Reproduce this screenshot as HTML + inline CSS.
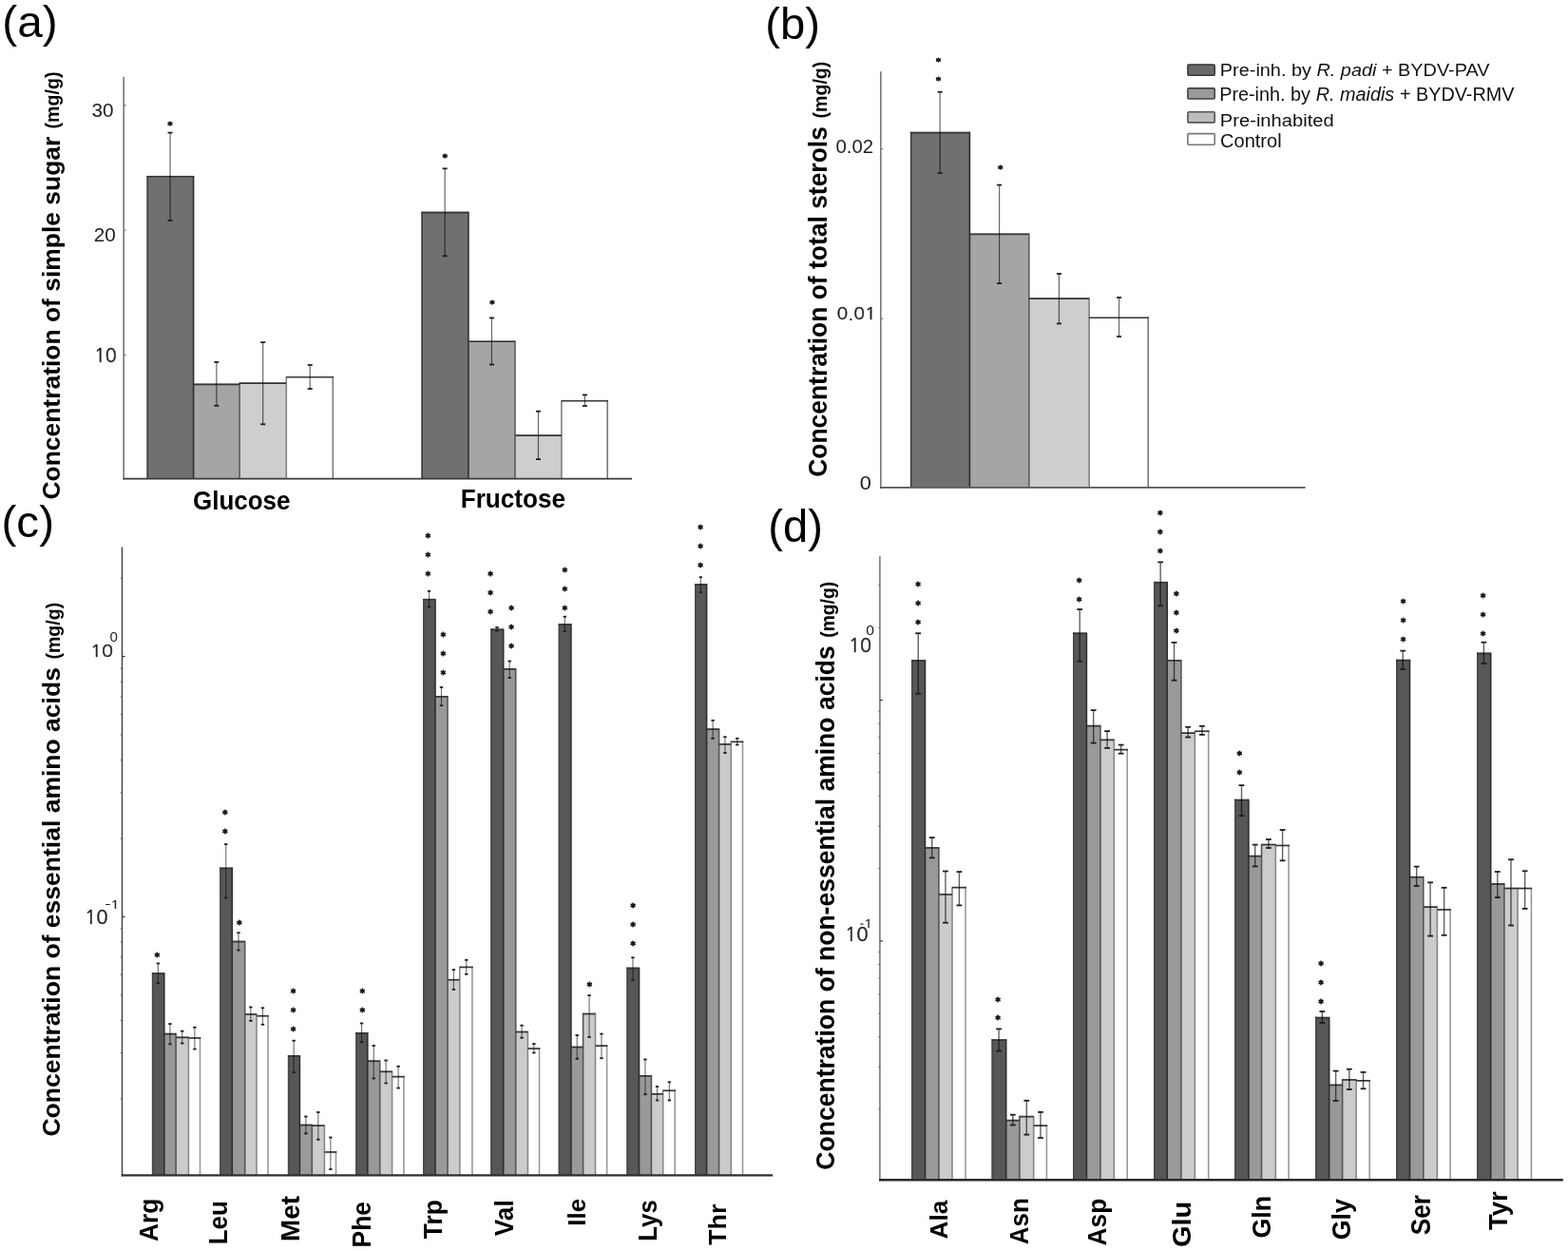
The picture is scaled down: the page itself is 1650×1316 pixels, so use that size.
<!DOCTYPE html>
<html><head><meta charset="utf-8"><title>Figure</title>
<style>
html,body{margin:0;padding:0;background:#fff;}
svg{display:block;}
text{font-family:"Liberation Sans",Arial,sans-serif;}
</style></head>
<body>
<svg width="1650" height="1316" viewBox="0 0 1650 1316">
<rect x="0" y="0" width="1650" height="1316" fill="#ffffff"/>
<rect x="154.50" y="184.90" width="49.10" height="318.70" fill="#707070"/>
<rect x="203.60" y="403.60" width="48.50" height="100.00" fill="#a5a5a5"/>
<rect x="252.10" y="402.30" width="49.20" height="101.30" fill="#cecece"/>
<rect x="301.30" y="395.90" width="49.80" height="107.70" fill="#ffffff"/>
<line x1="155.30" y1="184.90" x2="155.30" y2="503.60" stroke="#414141" stroke-width="1.6"/>
<line x1="203.60" y1="184.90" x2="203.60" y2="503.60" stroke="#2e2e2e" stroke-width="1.6"/>
<line x1="252.10" y1="402.30" x2="252.10" y2="503.60" stroke="#5c5c5c" stroke-width="1.6"/>
<line x1="301.30" y1="395.90" x2="301.30" y2="503.60" stroke="#808080" stroke-width="1.6"/>
<line x1="350.30" y1="395.90" x2="350.30" y2="503.60" stroke="#7a7a7a" stroke-width="1.6"/>
<line x1="154.50" y1="185.75" x2="203.60" y2="185.75" stroke="#363636" stroke-width="1.7"/>
<line x1="203.60" y1="404.45" x2="252.10" y2="404.45" stroke="#363636" stroke-width="1.7"/>
<line x1="252.10" y1="403.15" x2="301.30" y2="403.15" stroke="#363636" stroke-width="1.7"/>
<line x1="301.30" y1="396.75" x2="351.10" y2="396.75" stroke="#363636" stroke-width="1.7"/>
<line x1="179.05" y1="139.60" x2="179.05" y2="232.00" stroke="#000" stroke-opacity="0.6" stroke-width="1.2"/>
<line x1="176.55" y1="139.60" x2="181.55" y2="139.60" stroke="#1e1e1e" stroke-width="1.8"/>
<line x1="176.55" y1="232.00" x2="181.55" y2="232.00" stroke="#1e1e1e" stroke-width="1.8"/>
<line x1="227.85" y1="380.90" x2="227.85" y2="426.80" stroke="#000" stroke-opacity="0.6" stroke-width="1.2"/>
<line x1="225.35" y1="380.90" x2="230.35" y2="380.90" stroke="#1e1e1e" stroke-width="1.8"/>
<line x1="225.35" y1="426.80" x2="230.35" y2="426.80" stroke="#1e1e1e" stroke-width="1.8"/>
<line x1="276.70" y1="360.10" x2="276.70" y2="446.30" stroke="#000" stroke-opacity="0.6" stroke-width="1.2"/>
<line x1="274.20" y1="360.10" x2="279.20" y2="360.10" stroke="#1e1e1e" stroke-width="1.8"/>
<line x1="274.20" y1="446.30" x2="279.20" y2="446.30" stroke="#1e1e1e" stroke-width="1.8"/>
<line x1="326.20" y1="384.00" x2="326.20" y2="409.00" stroke="#000" stroke-opacity="0.6" stroke-width="1.2"/>
<line x1="323.70" y1="384.00" x2="328.70" y2="384.00" stroke="#1e1e1e" stroke-width="1.8"/>
<line x1="323.70" y1="409.00" x2="328.70" y2="409.00" stroke="#1e1e1e" stroke-width="1.8"/>
<rect x="443.40" y="222.70" width="49.50" height="280.90" fill="#707070"/>
<rect x="492.90" y="358.40" width="49.10" height="145.20" fill="#a5a5a5"/>
<rect x="542.00" y="457.30" width="48.90" height="46.30" fill="#cecece"/>
<rect x="590.90" y="420.90" width="49.10" height="82.70" fill="#ffffff"/>
<line x1="444.20" y1="222.70" x2="444.20" y2="503.60" stroke="#414141" stroke-width="1.6"/>
<line x1="492.90" y1="222.70" x2="492.90" y2="503.60" stroke="#2e2e2e" stroke-width="1.6"/>
<line x1="542.00" y1="358.40" x2="542.00" y2="503.60" stroke="#5c5c5c" stroke-width="1.6"/>
<line x1="590.90" y1="420.90" x2="590.90" y2="503.60" stroke="#808080" stroke-width="1.6"/>
<line x1="639.20" y1="420.90" x2="639.20" y2="503.60" stroke="#7a7a7a" stroke-width="1.6"/>
<line x1="443.40" y1="223.55" x2="492.90" y2="223.55" stroke="#363636" stroke-width="1.7"/>
<line x1="492.90" y1="359.25" x2="542.00" y2="359.25" stroke="#363636" stroke-width="1.7"/>
<line x1="542.00" y1="458.15" x2="590.90" y2="458.15" stroke="#363636" stroke-width="1.7"/>
<line x1="590.90" y1="421.75" x2="640.00" y2="421.75" stroke="#363636" stroke-width="1.7"/>
<line x1="468.15" y1="177.30" x2="468.15" y2="269.30" stroke="#000" stroke-opacity="0.6" stroke-width="1.2"/>
<line x1="465.65" y1="177.30" x2="470.65" y2="177.30" stroke="#1e1e1e" stroke-width="1.8"/>
<line x1="465.65" y1="269.30" x2="470.65" y2="269.30" stroke="#1e1e1e" stroke-width="1.8"/>
<line x1="517.45" y1="334.40" x2="517.45" y2="383.50" stroke="#000" stroke-opacity="0.6" stroke-width="1.2"/>
<line x1="514.95" y1="334.40" x2="519.95" y2="334.40" stroke="#1e1e1e" stroke-width="1.8"/>
<line x1="514.95" y1="383.50" x2="519.95" y2="383.50" stroke="#1e1e1e" stroke-width="1.8"/>
<line x1="566.45" y1="432.70" x2="566.45" y2="483.10" stroke="#000" stroke-opacity="0.6" stroke-width="1.2"/>
<line x1="563.95" y1="432.70" x2="568.95" y2="432.70" stroke="#1e1e1e" stroke-width="1.8"/>
<line x1="563.95" y1="483.10" x2="568.95" y2="483.10" stroke="#1e1e1e" stroke-width="1.8"/>
<line x1="615.45" y1="415.40" x2="615.45" y2="427.00" stroke="#000" stroke-opacity="0.6" stroke-width="1.2"/>
<line x1="612.95" y1="415.40" x2="617.95" y2="415.40" stroke="#1e1e1e" stroke-width="1.8"/>
<line x1="612.95" y1="427.00" x2="617.95" y2="427.00" stroke="#1e1e1e" stroke-width="1.8"/>
<text stroke="#1a1a1a" stroke-width="8.9" stroke-linejoin="round" transform="translate(176.41,135.06) scale(0.09534,0.09534)" font-size="100" fill="#1a1a1a" xml:space="preserve"><tspan x="0.00" font-family="DejaVu Sans, sans-serif" font-weight="bold">*</tspan></text>
<text stroke="#1a1a1a" stroke-width="8.9" stroke-linejoin="round" transform="translate(465.81,169.26) scale(0.09534,0.09534)" font-size="100" fill="#1a1a1a" xml:space="preserve"><tspan x="0.00" font-family="DejaVu Sans, sans-serif" font-weight="bold">*</tspan></text>
<text stroke="#1a1a1a" stroke-width="8.9" stroke-linejoin="round" transform="translate(515.51,323.06) scale(0.09534,0.09534)" font-size="100" fill="#1a1a1a" xml:space="preserve"><tspan x="0.00" font-family="DejaVu Sans, sans-serif" font-weight="bold">*</tspan></text>
<line x1="130.20" y1="80.70" x2="130.20" y2="504.60" stroke="#777777" stroke-width="1.6"/>
<line x1="129.50" y1="503.60" x2="665.00" y2="503.60" stroke="#3a3a3a" stroke-width="1.6"/>
<line x1="130.20" y1="110.90" x2="132.60" y2="110.90" stroke="#777777" stroke-width="1.2"/>
<line x1="130.20" y1="242.10" x2="132.60" y2="242.10" stroke="#777777" stroke-width="1.2"/>
<line x1="130.20" y1="373.30" x2="132.60" y2="373.30" stroke="#777777" stroke-width="1.2"/>
<rect x="957.90" y="138.80" width="62.50" height="374.10" fill="#707070"/>
<rect x="1020.40" y="245.60" width="62.40" height="267.30" fill="#a5a5a5"/>
<rect x="1082.80" y="313.30" width="63.30" height="199.60" fill="#cecece"/>
<rect x="1146.10" y="333.40" width="62.90" height="179.50" fill="#ffffff"/>
<line x1="958.70" y1="138.80" x2="958.70" y2="512.90" stroke="#414141" stroke-width="1.6"/>
<line x1="1020.40" y1="138.80" x2="1020.40" y2="512.90" stroke="#2e2e2e" stroke-width="1.6"/>
<line x1="1082.80" y1="245.60" x2="1082.80" y2="512.90" stroke="#5c5c5c" stroke-width="1.6"/>
<line x1="1146.10" y1="313.30" x2="1146.10" y2="512.90" stroke="#808080" stroke-width="1.6"/>
<line x1="1208.20" y1="333.40" x2="1208.20" y2="512.90" stroke="#7a7a7a" stroke-width="1.6"/>
<line x1="957.90" y1="139.65" x2="1020.40" y2="139.65" stroke="#363636" stroke-width="1.7"/>
<line x1="1020.40" y1="246.45" x2="1082.80" y2="246.45" stroke="#363636" stroke-width="1.7"/>
<line x1="1082.80" y1="314.15" x2="1146.10" y2="314.15" stroke="#363636" stroke-width="1.7"/>
<line x1="1146.10" y1="334.25" x2="1209.00" y2="334.25" stroke="#363636" stroke-width="1.7"/>
<line x1="989.15" y1="96.70" x2="989.15" y2="182.10" stroke="#000" stroke-opacity="0.6" stroke-width="1.2"/>
<line x1="986.65" y1="96.70" x2="991.65" y2="96.70" stroke="#1e1e1e" stroke-width="1.8"/>
<line x1="986.65" y1="182.10" x2="991.65" y2="182.10" stroke="#1e1e1e" stroke-width="1.8"/>
<line x1="1051.60" y1="194.60" x2="1051.60" y2="298.10" stroke="#000" stroke-opacity="0.6" stroke-width="1.2"/>
<line x1="1049.10" y1="194.60" x2="1054.10" y2="194.60" stroke="#1e1e1e" stroke-width="1.8"/>
<line x1="1049.10" y1="298.10" x2="1054.10" y2="298.10" stroke="#1e1e1e" stroke-width="1.8"/>
<line x1="1114.45" y1="288.00" x2="1114.45" y2="340.40" stroke="#000" stroke-opacity="0.6" stroke-width="1.2"/>
<line x1="1111.95" y1="288.00" x2="1116.95" y2="288.00" stroke="#1e1e1e" stroke-width="1.8"/>
<line x1="1111.95" y1="340.40" x2="1116.95" y2="340.40" stroke="#1e1e1e" stroke-width="1.8"/>
<line x1="1177.55" y1="313.00" x2="1177.55" y2="354.10" stroke="#000" stroke-opacity="0.6" stroke-width="1.2"/>
<line x1="1175.05" y1="313.00" x2="1180.05" y2="313.00" stroke="#1e1e1e" stroke-width="1.8"/>
<line x1="1175.05" y1="354.10" x2="1180.05" y2="354.10" stroke="#1e1e1e" stroke-width="1.8"/>
<text stroke="#1a1a1a" stroke-width="8.9" stroke-linejoin="round" transform="translate(985.11,67.66) scale(0.09534,0.09534)" font-size="100" fill="#1a1a1a" xml:space="preserve"><tspan x="0.00" font-family="DejaVu Sans, sans-serif" font-weight="bold">*</tspan></text>
<text stroke="#1a1a1a" stroke-width="8.9" stroke-linejoin="round" transform="translate(985.11,87.86) scale(0.09534,0.09534)" font-size="100" fill="#1a1a1a" xml:space="preserve"><tspan x="0.00" font-family="DejaVu Sans, sans-serif" font-weight="bold">*</tspan></text>
<text stroke="#1a1a1a" stroke-width="8.9" stroke-linejoin="round" transform="translate(1050.31,180.56) scale(0.09534,0.09534)" font-size="100" fill="#1a1a1a" xml:space="preserve"><tspan x="0.00" font-family="DejaVu Sans, sans-serif" font-weight="bold">*</tspan></text>
<line x1="926.80" y1="75.30" x2="926.80" y2="513.90" stroke="#777777" stroke-width="1.6"/>
<line x1="926.00" y1="512.90" x2="1373.60" y2="512.90" stroke="#555555" stroke-width="1.8"/>
<line x1="926.80" y1="156.60" x2="929.30" y2="156.60" stroke="#777777" stroke-width="1.2"/>
<line x1="926.80" y1="335.20" x2="929.30" y2="335.20" stroke="#777777" stroke-width="1.2"/>
<rect x="159.90" y="1023.30" width="12.90" height="213.10" fill="#575757"/>
<rect x="172.80" y="1086.80" width="12.30" height="149.60" fill="#999999"/>
<rect x="185.10" y="1090.50" width="13.30" height="145.90" fill="#cccccc"/>
<rect x="198.40" y="1091.10" width="12.90" height="145.30" fill="#ffffff"/>
<line x1="160.70" y1="1023.30" x2="160.70" y2="1236.40" stroke="#474747" stroke-width="1.6"/>
<line x1="172.80" y1="1023.30" x2="172.80" y2="1236.40" stroke="#2e2e2e" stroke-width="1.6"/>
<line x1="185.10" y1="1086.80" x2="185.10" y2="1236.40" stroke="#555555" stroke-width="1.6"/>
<line x1="198.40" y1="1090.50" x2="198.40" y2="1236.40" stroke="#888888" stroke-width="1.6"/>
<line x1="210.50" y1="1091.10" x2="210.50" y2="1236.40" stroke="#999999" stroke-width="1.6"/>
<line x1="159.90" y1="1024.15" x2="172.80" y2="1024.15" stroke="#363636" stroke-width="1.7"/>
<line x1="172.80" y1="1087.65" x2="185.10" y2="1087.65" stroke="#363636" stroke-width="1.7"/>
<line x1="185.10" y1="1091.35" x2="198.40" y2="1091.35" stroke="#363636" stroke-width="1.7"/>
<line x1="198.40" y1="1091.95" x2="211.30" y2="1091.95" stroke="#363636" stroke-width="1.7"/>
<line x1="166.35" y1="1013.50" x2="166.35" y2="1034.30" stroke="#000" stroke-opacity="0.55" stroke-width="1.15"/>
<line x1="164.65" y1="1013.50" x2="168.05" y2="1013.50" stroke="#1e1e1e" stroke-width="1.8"/>
<line x1="164.65" y1="1034.30" x2="168.05" y2="1034.30" stroke="#1e1e1e" stroke-width="1.8"/>
<line x1="178.95" y1="1077.10" x2="178.95" y2="1098.40" stroke="#000" stroke-opacity="0.55" stroke-width="1.15"/>
<line x1="177.25" y1="1077.10" x2="180.65" y2="1077.10" stroke="#1e1e1e" stroke-width="1.8"/>
<line x1="177.25" y1="1098.40" x2="180.65" y2="1098.40" stroke="#1e1e1e" stroke-width="1.8"/>
<line x1="191.75" y1="1084.70" x2="191.75" y2="1097.50" stroke="#000" stroke-opacity="0.55" stroke-width="1.15"/>
<line x1="190.05" y1="1084.70" x2="193.45" y2="1084.70" stroke="#1e1e1e" stroke-width="1.8"/>
<line x1="190.05" y1="1097.50" x2="193.45" y2="1097.50" stroke="#1e1e1e" stroke-width="1.8"/>
<line x1="204.85" y1="1080.80" x2="204.85" y2="1103.60" stroke="#000" stroke-opacity="0.55" stroke-width="1.15"/>
<line x1="203.15" y1="1080.80" x2="206.55" y2="1080.80" stroke="#1e1e1e" stroke-width="1.8"/>
<line x1="203.15" y1="1103.60" x2="206.55" y2="1103.60" stroke="#1e1e1e" stroke-width="1.8"/>
<rect x="231.20" y="912.60" width="13.10" height="323.80" fill="#575757"/>
<rect x="244.30" y="989.70" width="13.40" height="246.70" fill="#999999"/>
<rect x="257.70" y="1066.20" width="12.30" height="170.20" fill="#cccccc"/>
<rect x="270.00" y="1067.90" width="12.80" height="168.50" fill="#ffffff"/>
<line x1="232.00" y1="912.60" x2="232.00" y2="1236.40" stroke="#474747" stroke-width="1.6"/>
<line x1="244.30" y1="912.60" x2="244.30" y2="1236.40" stroke="#2e2e2e" stroke-width="1.6"/>
<line x1="257.70" y1="989.70" x2="257.70" y2="1236.40" stroke="#555555" stroke-width="1.6"/>
<line x1="270.00" y1="1066.20" x2="270.00" y2="1236.40" stroke="#888888" stroke-width="1.6"/>
<line x1="282.00" y1="1067.90" x2="282.00" y2="1236.40" stroke="#999999" stroke-width="1.6"/>
<line x1="231.20" y1="913.45" x2="244.30" y2="913.45" stroke="#363636" stroke-width="1.7"/>
<line x1="244.30" y1="990.55" x2="257.70" y2="990.55" stroke="#363636" stroke-width="1.7"/>
<line x1="257.70" y1="1067.05" x2="270.00" y2="1067.05" stroke="#363636" stroke-width="1.7"/>
<line x1="270.00" y1="1068.75" x2="282.80" y2="1068.75" stroke="#363636" stroke-width="1.7"/>
<line x1="237.75" y1="888.10" x2="237.75" y2="944.40" stroke="#000" stroke-opacity="0.55" stroke-width="1.15"/>
<line x1="236.05" y1="888.10" x2="239.45" y2="888.10" stroke="#1e1e1e" stroke-width="1.8"/>
<line x1="236.05" y1="944.40" x2="239.45" y2="944.40" stroke="#1e1e1e" stroke-width="1.8"/>
<line x1="251.00" y1="981.20" x2="251.00" y2="999.60" stroke="#000" stroke-opacity="0.55" stroke-width="1.15"/>
<line x1="249.30" y1="981.20" x2="252.70" y2="981.20" stroke="#1e1e1e" stroke-width="1.8"/>
<line x1="249.30" y1="999.60" x2="252.70" y2="999.60" stroke="#1e1e1e" stroke-width="1.8"/>
<line x1="263.85" y1="1059.50" x2="263.85" y2="1073.90" stroke="#000" stroke-opacity="0.55" stroke-width="1.15"/>
<line x1="262.15" y1="1059.50" x2="265.55" y2="1059.50" stroke="#1e1e1e" stroke-width="1.8"/>
<line x1="262.15" y1="1073.90" x2="265.55" y2="1073.90" stroke="#1e1e1e" stroke-width="1.8"/>
<line x1="276.40" y1="1060.30" x2="276.40" y2="1077.80" stroke="#000" stroke-opacity="0.55" stroke-width="1.15"/>
<line x1="274.70" y1="1060.30" x2="278.10" y2="1060.30" stroke="#1e1e1e" stroke-width="1.8"/>
<line x1="274.70" y1="1077.80" x2="278.10" y2="1077.80" stroke="#1e1e1e" stroke-width="1.8"/>
<rect x="302.90" y="1110.10" width="12.50" height="126.30" fill="#575757"/>
<rect x="315.40" y="1182.70" width="12.90" height="53.70" fill="#999999"/>
<rect x="328.30" y="1183.30" width="13.10" height="53.10" fill="#cccccc"/>
<rect x="341.40" y="1211.10" width="12.90" height="25.30" fill="#ffffff"/>
<line x1="303.70" y1="1110.10" x2="303.70" y2="1236.40" stroke="#474747" stroke-width="1.6"/>
<line x1="315.40" y1="1110.10" x2="315.40" y2="1236.40" stroke="#2e2e2e" stroke-width="1.6"/>
<line x1="328.30" y1="1182.70" x2="328.30" y2="1236.40" stroke="#555555" stroke-width="1.6"/>
<line x1="341.40" y1="1183.30" x2="341.40" y2="1236.40" stroke="#888888" stroke-width="1.6"/>
<line x1="353.50" y1="1211.10" x2="353.50" y2="1236.40" stroke="#999999" stroke-width="1.6"/>
<line x1="302.90" y1="1110.95" x2="315.40" y2="1110.95" stroke="#363636" stroke-width="1.7"/>
<line x1="315.40" y1="1183.55" x2="328.30" y2="1183.55" stroke="#363636" stroke-width="1.7"/>
<line x1="328.30" y1="1184.15" x2="341.40" y2="1184.15" stroke="#363636" stroke-width="1.7"/>
<line x1="341.40" y1="1211.95" x2="354.30" y2="1211.95" stroke="#363636" stroke-width="1.7"/>
<line x1="309.15" y1="1094.70" x2="309.15" y2="1128.10" stroke="#000" stroke-opacity="0.55" stroke-width="1.15"/>
<line x1="307.45" y1="1094.70" x2="310.85" y2="1094.70" stroke="#1e1e1e" stroke-width="1.8"/>
<line x1="307.45" y1="1128.10" x2="310.85" y2="1128.10" stroke="#1e1e1e" stroke-width="1.8"/>
<line x1="321.85" y1="1174.50" x2="321.85" y2="1192.40" stroke="#000" stroke-opacity="0.55" stroke-width="1.15"/>
<line x1="320.15" y1="1174.50" x2="323.55" y2="1174.50" stroke="#1e1e1e" stroke-width="1.8"/>
<line x1="320.15" y1="1192.40" x2="323.55" y2="1192.40" stroke="#1e1e1e" stroke-width="1.8"/>
<line x1="334.85" y1="1170.00" x2="334.85" y2="1198.80" stroke="#000" stroke-opacity="0.55" stroke-width="1.15"/>
<line x1="333.15" y1="1170.00" x2="336.55" y2="1170.00" stroke="#1e1e1e" stroke-width="1.8"/>
<line x1="333.15" y1="1198.80" x2="336.55" y2="1198.80" stroke="#1e1e1e" stroke-width="1.8"/>
<line x1="347.85" y1="1196.50" x2="347.85" y2="1230.00" stroke="#000" stroke-opacity="0.55" stroke-width="1.15"/>
<line x1="346.15" y1="1196.50" x2="349.55" y2="1196.50" stroke="#1e1e1e" stroke-width="1.8"/>
<line x1="346.15" y1="1230.00" x2="349.55" y2="1230.00" stroke="#1e1e1e" stroke-width="1.8"/>
<rect x="374.30" y="1086.10" width="12.50" height="150.30" fill="#575757"/>
<rect x="386.80" y="1115.40" width="12.90" height="121.00" fill="#999999"/>
<rect x="399.70" y="1126.50" width="12.90" height="109.90" fill="#cccccc"/>
<rect x="412.60" y="1131.80" width="13.10" height="104.60" fill="#ffffff"/>
<line x1="375.10" y1="1086.10" x2="375.10" y2="1236.40" stroke="#474747" stroke-width="1.6"/>
<line x1="386.80" y1="1086.10" x2="386.80" y2="1236.40" stroke="#2e2e2e" stroke-width="1.6"/>
<line x1="399.70" y1="1115.40" x2="399.70" y2="1236.40" stroke="#555555" stroke-width="1.6"/>
<line x1="412.60" y1="1126.50" x2="412.60" y2="1236.40" stroke="#888888" stroke-width="1.6"/>
<line x1="424.90" y1="1131.80" x2="424.90" y2="1236.40" stroke="#999999" stroke-width="1.6"/>
<line x1="374.30" y1="1086.95" x2="386.80" y2="1086.95" stroke="#363636" stroke-width="1.7"/>
<line x1="386.80" y1="1116.25" x2="399.70" y2="1116.25" stroke="#363636" stroke-width="1.7"/>
<line x1="399.70" y1="1127.35" x2="412.60" y2="1127.35" stroke="#363636" stroke-width="1.7"/>
<line x1="412.60" y1="1132.65" x2="425.70" y2="1132.65" stroke="#363636" stroke-width="1.7"/>
<line x1="380.55" y1="1076.50" x2="380.55" y2="1096.20" stroke="#000" stroke-opacity="0.55" stroke-width="1.15"/>
<line x1="378.85" y1="1076.50" x2="382.25" y2="1076.50" stroke="#1e1e1e" stroke-width="1.8"/>
<line x1="378.85" y1="1096.20" x2="382.25" y2="1096.20" stroke="#1e1e1e" stroke-width="1.8"/>
<line x1="393.25" y1="1100.00" x2="393.25" y2="1134.50" stroke="#000" stroke-opacity="0.55" stroke-width="1.15"/>
<line x1="391.55" y1="1100.00" x2="394.95" y2="1100.00" stroke="#1e1e1e" stroke-width="1.8"/>
<line x1="391.55" y1="1134.50" x2="394.95" y2="1134.50" stroke="#1e1e1e" stroke-width="1.8"/>
<line x1="406.15" y1="1115.50" x2="406.15" y2="1139.50" stroke="#000" stroke-opacity="0.55" stroke-width="1.15"/>
<line x1="404.45" y1="1115.50" x2="407.85" y2="1115.50" stroke="#1e1e1e" stroke-width="1.8"/>
<line x1="404.45" y1="1139.50" x2="407.85" y2="1139.50" stroke="#1e1e1e" stroke-width="1.8"/>
<line x1="419.15" y1="1121.80" x2="419.15" y2="1144.60" stroke="#000" stroke-opacity="0.55" stroke-width="1.15"/>
<line x1="417.45" y1="1121.80" x2="420.85" y2="1121.80" stroke="#1e1e1e" stroke-width="1.8"/>
<line x1="417.45" y1="1144.60" x2="420.85" y2="1144.60" stroke="#1e1e1e" stroke-width="1.8"/>
<rect x="445.10" y="629.90" width="12.90" height="606.50" fill="#575757"/>
<rect x="458.00" y="732.00" width="13.00" height="504.40" fill="#999999"/>
<rect x="471.00" y="1029.90" width="12.80" height="206.50" fill="#cccccc"/>
<rect x="483.80" y="1016.60" width="13.90" height="219.80" fill="#ffffff"/>
<line x1="445.90" y1="629.90" x2="445.90" y2="1236.40" stroke="#474747" stroke-width="1.6"/>
<line x1="458.00" y1="629.90" x2="458.00" y2="1236.40" stroke="#2e2e2e" stroke-width="1.6"/>
<line x1="471.00" y1="732.00" x2="471.00" y2="1236.40" stroke="#555555" stroke-width="1.6"/>
<line x1="483.80" y1="1016.60" x2="483.80" y2="1236.40" stroke="#888888" stroke-width="1.6"/>
<line x1="496.90" y1="1016.60" x2="496.90" y2="1236.40" stroke="#999999" stroke-width="1.6"/>
<line x1="445.10" y1="630.75" x2="458.00" y2="630.75" stroke="#363636" stroke-width="1.7"/>
<line x1="458.00" y1="732.85" x2="471.00" y2="732.85" stroke="#363636" stroke-width="1.7"/>
<line x1="471.00" y1="1030.75" x2="483.80" y2="1030.75" stroke="#363636" stroke-width="1.7"/>
<line x1="483.80" y1="1017.45" x2="497.70" y2="1017.45" stroke="#363636" stroke-width="1.7"/>
<line x1="451.55" y1="621.80" x2="451.55" y2="638.50" stroke="#000" stroke-opacity="0.55" stroke-width="1.15"/>
<line x1="449.85" y1="621.80" x2="453.25" y2="621.80" stroke="#1e1e1e" stroke-width="1.8"/>
<line x1="449.85" y1="638.50" x2="453.25" y2="638.50" stroke="#1e1e1e" stroke-width="1.8"/>
<line x1="464.50" y1="723.00" x2="464.50" y2="742.20" stroke="#000" stroke-opacity="0.55" stroke-width="1.15"/>
<line x1="462.80" y1="723.00" x2="466.20" y2="723.00" stroke="#1e1e1e" stroke-width="1.8"/>
<line x1="462.80" y1="742.20" x2="466.20" y2="742.20" stroke="#1e1e1e" stroke-width="1.8"/>
<line x1="477.40" y1="1020.10" x2="477.40" y2="1040.90" stroke="#000" stroke-opacity="0.55" stroke-width="1.15"/>
<line x1="475.70" y1="1020.10" x2="479.10" y2="1020.10" stroke="#1e1e1e" stroke-width="1.8"/>
<line x1="475.70" y1="1040.90" x2="479.10" y2="1040.90" stroke="#1e1e1e" stroke-width="1.8"/>
<line x1="490.75" y1="1009.80" x2="490.75" y2="1024.80" stroke="#000" stroke-opacity="0.55" stroke-width="1.15"/>
<line x1="489.05" y1="1009.80" x2="492.45" y2="1009.80" stroke="#1e1e1e" stroke-width="1.8"/>
<line x1="489.05" y1="1024.80" x2="492.45" y2="1024.80" stroke="#1e1e1e" stroke-width="1.8"/>
<rect x="516.30" y="661.50" width="13.40" height="574.90" fill="#575757"/>
<rect x="529.70" y="703.00" width="13.00" height="533.40" fill="#999999"/>
<rect x="542.70" y="1084.70" width="12.70" height="151.70" fill="#cccccc"/>
<rect x="555.40" y="1102.20" width="12.90" height="134.20" fill="#ffffff"/>
<line x1="517.10" y1="661.50" x2="517.10" y2="1236.40" stroke="#474747" stroke-width="1.6"/>
<line x1="529.70" y1="661.50" x2="529.70" y2="1236.40" stroke="#2e2e2e" stroke-width="1.6"/>
<line x1="542.70" y1="703.00" x2="542.70" y2="1236.40" stroke="#555555" stroke-width="1.6"/>
<line x1="555.40" y1="1084.70" x2="555.40" y2="1236.40" stroke="#888888" stroke-width="1.6"/>
<line x1="567.50" y1="1102.20" x2="567.50" y2="1236.40" stroke="#999999" stroke-width="1.6"/>
<line x1="516.30" y1="662.35" x2="529.70" y2="662.35" stroke="#363636" stroke-width="1.7"/>
<line x1="529.70" y1="703.85" x2="542.70" y2="703.85" stroke="#363636" stroke-width="1.7"/>
<line x1="542.70" y1="1085.55" x2="555.40" y2="1085.55" stroke="#363636" stroke-width="1.7"/>
<line x1="555.40" y1="1103.05" x2="568.30" y2="1103.05" stroke="#363636" stroke-width="1.7"/>
<line x1="523.00" y1="660.00" x2="523.00" y2="663.60" stroke="#000" stroke-opacity="0.55" stroke-width="1.15"/>
<line x1="521.30" y1="660.00" x2="524.70" y2="660.00" stroke="#1e1e1e" stroke-width="1.8"/>
<line x1="521.30" y1="663.60" x2="524.70" y2="663.60" stroke="#1e1e1e" stroke-width="1.8"/>
<line x1="536.20" y1="695.50" x2="536.20" y2="713.00" stroke="#000" stroke-opacity="0.55" stroke-width="1.15"/>
<line x1="534.50" y1="695.50" x2="537.90" y2="695.50" stroke="#1e1e1e" stroke-width="1.8"/>
<line x1="534.50" y1="713.00" x2="537.90" y2="713.00" stroke="#1e1e1e" stroke-width="1.8"/>
<line x1="549.05" y1="1078.70" x2="549.05" y2="1091.70" stroke="#000" stroke-opacity="0.55" stroke-width="1.15"/>
<line x1="547.35" y1="1078.70" x2="550.75" y2="1078.70" stroke="#1e1e1e" stroke-width="1.8"/>
<line x1="547.35" y1="1091.70" x2="550.75" y2="1091.70" stroke="#1e1e1e" stroke-width="1.8"/>
<line x1="561.85" y1="1098.10" x2="561.85" y2="1107.50" stroke="#000" stroke-opacity="0.55" stroke-width="1.15"/>
<line x1="560.15" y1="1098.10" x2="563.55" y2="1098.10" stroke="#1e1e1e" stroke-width="1.8"/>
<line x1="560.15" y1="1107.50" x2="563.55" y2="1107.50" stroke="#1e1e1e" stroke-width="1.8"/>
<rect x="587.70" y="656.00" width="13.20" height="580.40" fill="#575757"/>
<rect x="600.90" y="1100.70" width="12.70" height="135.70" fill="#999999"/>
<rect x="613.60" y="1065.70" width="12.90" height="170.70" fill="#cccccc"/>
<rect x="626.50" y="1099.30" width="12.90" height="137.10" fill="#ffffff"/>
<line x1="588.50" y1="656.00" x2="588.50" y2="1236.40" stroke="#474747" stroke-width="1.6"/>
<line x1="600.90" y1="656.00" x2="600.90" y2="1236.40" stroke="#2e2e2e" stroke-width="1.6"/>
<line x1="613.60" y1="1065.70" x2="613.60" y2="1236.40" stroke="#555555" stroke-width="1.6"/>
<line x1="626.50" y1="1065.70" x2="626.50" y2="1236.40" stroke="#888888" stroke-width="1.6"/>
<line x1="638.60" y1="1099.30" x2="638.60" y2="1236.40" stroke="#999999" stroke-width="1.6"/>
<line x1="587.70" y1="656.85" x2="600.90" y2="656.85" stroke="#363636" stroke-width="1.7"/>
<line x1="600.90" y1="1101.55" x2="613.60" y2="1101.55" stroke="#363636" stroke-width="1.7"/>
<line x1="613.60" y1="1066.55" x2="626.50" y2="1066.55" stroke="#363636" stroke-width="1.7"/>
<line x1="626.50" y1="1100.15" x2="639.40" y2="1100.15" stroke="#363636" stroke-width="1.7"/>
<line x1="594.30" y1="648.70" x2="594.30" y2="664.10" stroke="#000" stroke-opacity="0.55" stroke-width="1.15"/>
<line x1="592.60" y1="648.70" x2="596.00" y2="648.70" stroke="#1e1e1e" stroke-width="1.8"/>
<line x1="592.60" y1="664.10" x2="596.00" y2="664.10" stroke="#1e1e1e" stroke-width="1.8"/>
<line x1="607.25" y1="1089.10" x2="607.25" y2="1113.80" stroke="#000" stroke-opacity="0.55" stroke-width="1.15"/>
<line x1="605.55" y1="1089.10" x2="608.95" y2="1089.10" stroke="#1e1e1e" stroke-width="1.8"/>
<line x1="605.55" y1="1113.80" x2="608.95" y2="1113.80" stroke="#1e1e1e" stroke-width="1.8"/>
<line x1="620.05" y1="1047.10" x2="620.05" y2="1091.00" stroke="#000" stroke-opacity="0.55" stroke-width="1.15"/>
<line x1="618.35" y1="1047.10" x2="621.75" y2="1047.10" stroke="#1e1e1e" stroke-width="1.8"/>
<line x1="618.35" y1="1091.00" x2="621.75" y2="1091.00" stroke="#1e1e1e" stroke-width="1.8"/>
<line x1="632.95" y1="1087.60" x2="632.95" y2="1113.20" stroke="#000" stroke-opacity="0.55" stroke-width="1.15"/>
<line x1="631.25" y1="1087.60" x2="634.65" y2="1087.60" stroke="#1e1e1e" stroke-width="1.8"/>
<line x1="631.25" y1="1113.20" x2="634.65" y2="1113.20" stroke="#1e1e1e" stroke-width="1.8"/>
<rect x="659.40" y="1017.70" width="13.10" height="218.70" fill="#575757"/>
<rect x="672.50" y="1131.00" width="12.90" height="105.40" fill="#999999"/>
<rect x="685.40" y="1150.00" width="12.30" height="86.40" fill="#cccccc"/>
<rect x="697.70" y="1146.40" width="13.30" height="90.00" fill="#ffffff"/>
<line x1="660.20" y1="1017.70" x2="660.20" y2="1236.40" stroke="#474747" stroke-width="1.6"/>
<line x1="672.50" y1="1017.70" x2="672.50" y2="1236.40" stroke="#2e2e2e" stroke-width="1.6"/>
<line x1="685.40" y1="1131.00" x2="685.40" y2="1236.40" stroke="#555555" stroke-width="1.6"/>
<line x1="697.70" y1="1146.40" x2="697.70" y2="1236.40" stroke="#888888" stroke-width="1.6"/>
<line x1="710.20" y1="1146.40" x2="710.20" y2="1236.40" stroke="#999999" stroke-width="1.6"/>
<line x1="659.40" y1="1018.55" x2="672.50" y2="1018.55" stroke="#363636" stroke-width="1.7"/>
<line x1="672.50" y1="1131.85" x2="685.40" y2="1131.85" stroke="#363636" stroke-width="1.7"/>
<line x1="685.40" y1="1150.85" x2="697.70" y2="1150.85" stroke="#363636" stroke-width="1.7"/>
<line x1="697.70" y1="1147.25" x2="711.00" y2="1147.25" stroke="#363636" stroke-width="1.7"/>
<line x1="665.95" y1="1007.30" x2="665.95" y2="1031.20" stroke="#000" stroke-opacity="0.55" stroke-width="1.15"/>
<line x1="664.25" y1="1007.30" x2="667.65" y2="1007.30" stroke="#1e1e1e" stroke-width="1.8"/>
<line x1="664.25" y1="1031.20" x2="667.65" y2="1031.20" stroke="#1e1e1e" stroke-width="1.8"/>
<line x1="678.95" y1="1114.50" x2="678.95" y2="1151.20" stroke="#000" stroke-opacity="0.55" stroke-width="1.15"/>
<line x1="677.25" y1="1114.50" x2="680.65" y2="1114.50" stroke="#1e1e1e" stroke-width="1.8"/>
<line x1="677.25" y1="1151.20" x2="680.65" y2="1151.20" stroke="#1e1e1e" stroke-width="1.8"/>
<line x1="691.55" y1="1143.00" x2="691.55" y2="1157.50" stroke="#000" stroke-opacity="0.55" stroke-width="1.15"/>
<line x1="689.85" y1="1143.00" x2="693.25" y2="1143.00" stroke="#1e1e1e" stroke-width="1.8"/>
<line x1="689.85" y1="1157.50" x2="693.25" y2="1157.50" stroke="#1e1e1e" stroke-width="1.8"/>
<line x1="704.35" y1="1138.30" x2="704.35" y2="1157.50" stroke="#000" stroke-opacity="0.55" stroke-width="1.15"/>
<line x1="702.65" y1="1138.30" x2="706.05" y2="1138.30" stroke="#1e1e1e" stroke-width="1.8"/>
<line x1="702.65" y1="1157.50" x2="706.05" y2="1157.50" stroke="#1e1e1e" stroke-width="1.8"/>
<rect x="731.10" y="614.10" width="12.50" height="622.30" fill="#575757"/>
<rect x="743.60" y="766.30" width="13.00" height="470.10" fill="#999999"/>
<rect x="756.60" y="782.10" width="12.70" height="454.30" fill="#cccccc"/>
<rect x="769.30" y="779.50" width="13.00" height="456.90" fill="#ffffff"/>
<line x1="731.90" y1="614.10" x2="731.90" y2="1236.40" stroke="#474747" stroke-width="1.6"/>
<line x1="743.60" y1="614.10" x2="743.60" y2="1236.40" stroke="#2e2e2e" stroke-width="1.6"/>
<line x1="756.60" y1="766.30" x2="756.60" y2="1236.40" stroke="#555555" stroke-width="1.6"/>
<line x1="769.30" y1="779.50" x2="769.30" y2="1236.40" stroke="#888888" stroke-width="1.6"/>
<line x1="781.50" y1="779.50" x2="781.50" y2="1236.40" stroke="#999999" stroke-width="1.6"/>
<line x1="731.10" y1="614.95" x2="743.60" y2="614.95" stroke="#363636" stroke-width="1.7"/>
<line x1="743.60" y1="767.15" x2="756.60" y2="767.15" stroke="#363636" stroke-width="1.7"/>
<line x1="756.60" y1="782.95" x2="769.30" y2="782.95" stroke="#363636" stroke-width="1.7"/>
<line x1="769.30" y1="780.35" x2="782.30" y2="780.35" stroke="#363636" stroke-width="1.7"/>
<line x1="737.35" y1="607.20" x2="737.35" y2="623.00" stroke="#000" stroke-opacity="0.55" stroke-width="1.15"/>
<line x1="735.65" y1="607.20" x2="739.05" y2="607.20" stroke="#1e1e1e" stroke-width="1.8"/>
<line x1="735.65" y1="623.00" x2="739.05" y2="623.00" stroke="#1e1e1e" stroke-width="1.8"/>
<line x1="750.10" y1="757.80" x2="750.10" y2="776.80" stroke="#000" stroke-opacity="0.55" stroke-width="1.15"/>
<line x1="748.40" y1="757.80" x2="751.80" y2="757.80" stroke="#1e1e1e" stroke-width="1.8"/>
<line x1="748.40" y1="776.80" x2="751.80" y2="776.80" stroke="#1e1e1e" stroke-width="1.8"/>
<line x1="762.95" y1="775.20" x2="762.95" y2="792.00" stroke="#000" stroke-opacity="0.55" stroke-width="1.15"/>
<line x1="761.25" y1="775.20" x2="764.65" y2="775.20" stroke="#1e1e1e" stroke-width="1.8"/>
<line x1="761.25" y1="792.00" x2="764.65" y2="792.00" stroke="#1e1e1e" stroke-width="1.8"/>
<line x1="775.80" y1="776.80" x2="775.80" y2="783.50" stroke="#000" stroke-opacity="0.55" stroke-width="1.15"/>
<line x1="774.10" y1="776.80" x2="777.50" y2="776.80" stroke="#1e1e1e" stroke-width="1.8"/>
<line x1="774.10" y1="783.50" x2="777.50" y2="783.50" stroke="#1e1e1e" stroke-width="1.8"/>
<text stroke="#1a1a1a" stroke-width="8.5" stroke-linejoin="round" transform="translate(162.80,1009.57) scale(0.09948,0.09948)" font-size="100" fill="#1a1a1a" xml:space="preserve"><tspan x="0.00" font-family="DejaVu Sans, sans-serif" font-weight="bold">*</tspan></text>
<text stroke="#1a1a1a" stroke-width="8.5" stroke-linejoin="round" transform="translate(234.20,859.77) scale(0.09948,0.09948)" font-size="100" fill="#1a1a1a" xml:space="preserve"><tspan x="0.00" font-family="DejaVu Sans, sans-serif" font-weight="bold">*</tspan></text>
<text stroke="#1a1a1a" stroke-width="8.5" stroke-linejoin="round" transform="translate(234.20,879.97) scale(0.09948,0.09948)" font-size="100" fill="#1a1a1a" xml:space="preserve"><tspan x="0.00" font-family="DejaVu Sans, sans-serif" font-weight="bold">*</tspan></text>
<text stroke="#1a1a1a" stroke-width="8.5" stroke-linejoin="round" transform="translate(249.20,975.97) scale(0.09948,0.09948)" font-size="100" fill="#1a1a1a" xml:space="preserve"><tspan x="0.00" font-family="DejaVu Sans, sans-serif" font-weight="bold">*</tspan></text>
<text stroke="#1a1a1a" stroke-width="8.5" stroke-linejoin="round" transform="translate(306.00,1048.17) scale(0.09948,0.09948)" font-size="100" fill="#1a1a1a" xml:space="preserve"><tspan x="0.00" font-family="DejaVu Sans, sans-serif" font-weight="bold">*</tspan></text>
<text stroke="#1a1a1a" stroke-width="8.5" stroke-linejoin="round" transform="translate(306.00,1068.27) scale(0.09948,0.09948)" font-size="100" fill="#1a1a1a" xml:space="preserve"><tspan x="0.00" font-family="DejaVu Sans, sans-serif" font-weight="bold">*</tspan></text>
<text stroke="#1a1a1a" stroke-width="8.5" stroke-linejoin="round" transform="translate(306.00,1088.07) scale(0.09948,0.09948)" font-size="100" fill="#1a1a1a" xml:space="preserve"><tspan x="0.00" font-family="DejaVu Sans, sans-serif" font-weight="bold">*</tspan></text>
<text stroke="#1a1a1a" stroke-width="8.5" stroke-linejoin="round" transform="translate(378.80,1048.17) scale(0.09948,0.09948)" font-size="100" fill="#1a1a1a" xml:space="preserve"><tspan x="0.00" font-family="DejaVu Sans, sans-serif" font-weight="bold">*</tspan></text>
<text stroke="#1a1a1a" stroke-width="8.5" stroke-linejoin="round" transform="translate(378.80,1068.27) scale(0.09948,0.09948)" font-size="100" fill="#1a1a1a" xml:space="preserve"><tspan x="0.00" font-family="DejaVu Sans, sans-serif" font-weight="bold">*</tspan></text>
<text stroke="#1a1a1a" stroke-width="8.5" stroke-linejoin="round" transform="translate(447.70,569.47) scale(0.09948,0.09948)" font-size="100" fill="#1a1a1a" xml:space="preserve"><tspan x="0.00" font-family="DejaVu Sans, sans-serif" font-weight="bold">*</tspan></text>
<text stroke="#1a1a1a" stroke-width="8.5" stroke-linejoin="round" transform="translate(447.70,589.27) scale(0.09948,0.09948)" font-size="100" fill="#1a1a1a" xml:space="preserve"><tspan x="0.00" font-family="DejaVu Sans, sans-serif" font-weight="bold">*</tspan></text>
<text stroke="#1a1a1a" stroke-width="8.5" stroke-linejoin="round" transform="translate(447.70,609.17) scale(0.09948,0.09948)" font-size="100" fill="#1a1a1a" xml:space="preserve"><tspan x="0.00" font-family="DejaVu Sans, sans-serif" font-weight="bold">*</tspan></text>
<text stroke="#1a1a1a" stroke-width="8.5" stroke-linejoin="round" transform="translate(463.70,673.17) scale(0.09948,0.09948)" font-size="100" fill="#1a1a1a" xml:space="preserve"><tspan x="0.00" font-family="DejaVu Sans, sans-serif" font-weight="bold">*</tspan></text>
<text stroke="#1a1a1a" stroke-width="8.5" stroke-linejoin="round" transform="translate(463.70,692.97) scale(0.09948,0.09948)" font-size="100" fill="#1a1a1a" xml:space="preserve"><tspan x="0.00" font-family="DejaVu Sans, sans-serif" font-weight="bold">*</tspan></text>
<text stroke="#1a1a1a" stroke-width="8.5" stroke-linejoin="round" transform="translate(463.70,713.07) scale(0.09948,0.09948)" font-size="100" fill="#1a1a1a" xml:space="preserve"><tspan x="0.00" font-family="DejaVu Sans, sans-serif" font-weight="bold">*</tspan></text>
<text stroke="#1a1a1a" stroke-width="8.5" stroke-linejoin="round" transform="translate(513.60,608.87) scale(0.09948,0.09948)" font-size="100" fill="#1a1a1a" xml:space="preserve"><tspan x="0.00" font-family="DejaVu Sans, sans-serif" font-weight="bold">*</tspan></text>
<text stroke="#1a1a1a" stroke-width="8.5" stroke-linejoin="round" transform="translate(513.60,628.87) scale(0.09948,0.09948)" font-size="100" fill="#1a1a1a" xml:space="preserve"><tspan x="0.00" font-family="DejaVu Sans, sans-serif" font-weight="bold">*</tspan></text>
<text stroke="#1a1a1a" stroke-width="8.5" stroke-linejoin="round" transform="translate(513.60,648.77) scale(0.09948,0.09948)" font-size="100" fill="#1a1a1a" xml:space="preserve"><tspan x="0.00" font-family="DejaVu Sans, sans-serif" font-weight="bold">*</tspan></text>
<text stroke="#1a1a1a" stroke-width="8.5" stroke-linejoin="round" transform="translate(535.40,644.77) scale(0.09948,0.09948)" font-size="100" fill="#1a1a1a" xml:space="preserve"><tspan x="0.00" font-family="DejaVu Sans, sans-serif" font-weight="bold">*</tspan></text>
<text stroke="#1a1a1a" stroke-width="8.5" stroke-linejoin="round" transform="translate(535.40,664.67) scale(0.09948,0.09948)" font-size="100" fill="#1a1a1a" xml:space="preserve"><tspan x="0.00" font-family="DejaVu Sans, sans-serif" font-weight="bold">*</tspan></text>
<text stroke="#1a1a1a" stroke-width="8.5" stroke-linejoin="round" transform="translate(535.40,684.67) scale(0.09948,0.09948)" font-size="100" fill="#1a1a1a" xml:space="preserve"><tspan x="0.00" font-family="DejaVu Sans, sans-serif" font-weight="bold">*</tspan></text>
<text stroke="#1a1a1a" stroke-width="8.5" stroke-linejoin="round" transform="translate(591.70,604.77) scale(0.09948,0.09948)" font-size="100" fill="#1a1a1a" xml:space="preserve"><tspan x="0.00" font-family="DejaVu Sans, sans-serif" font-weight="bold">*</tspan></text>
<text stroke="#1a1a1a" stroke-width="8.5" stroke-linejoin="round" transform="translate(591.70,625.07) scale(0.09948,0.09948)" font-size="100" fill="#1a1a1a" xml:space="preserve"><tspan x="0.00" font-family="DejaVu Sans, sans-serif" font-weight="bold">*</tspan></text>
<text stroke="#1a1a1a" stroke-width="8.5" stroke-linejoin="round" transform="translate(591.70,644.67) scale(0.09948,0.09948)" font-size="100" fill="#1a1a1a" xml:space="preserve"><tspan x="0.00" font-family="DejaVu Sans, sans-serif" font-weight="bold">*</tspan></text>
<text stroke="#1a1a1a" stroke-width="8.5" stroke-linejoin="round" transform="translate(617.80,1041.37) scale(0.09948,0.09948)" font-size="100" fill="#1a1a1a" xml:space="preserve"><tspan x="0.00" font-family="DejaVu Sans, sans-serif" font-weight="bold">*</tspan></text>
<text stroke="#1a1a1a" stroke-width="8.5" stroke-linejoin="round" transform="translate(663.40,957.87) scale(0.09948,0.09948)" font-size="100" fill="#1a1a1a" xml:space="preserve"><tspan x="0.00" font-family="DejaVu Sans, sans-serif" font-weight="bold">*</tspan></text>
<text stroke="#1a1a1a" stroke-width="8.5" stroke-linejoin="round" transform="translate(663.40,977.77) scale(0.09948,0.09948)" font-size="100" fill="#1a1a1a" xml:space="preserve"><tspan x="0.00" font-family="DejaVu Sans, sans-serif" font-weight="bold">*</tspan></text>
<text stroke="#1a1a1a" stroke-width="8.5" stroke-linejoin="round" transform="translate(663.40,997.77) scale(0.09948,0.09948)" font-size="100" fill="#1a1a1a" xml:space="preserve"><tspan x="0.00" font-family="DejaVu Sans, sans-serif" font-weight="bold">*</tspan></text>
<text stroke="#1a1a1a" stroke-width="8.5" stroke-linejoin="round" transform="translate(734.40,560.27) scale(0.09948,0.09948)" font-size="100" fill="#1a1a1a" xml:space="preserve"><tspan x="0.00" font-family="DejaVu Sans, sans-serif" font-weight="bold">*</tspan></text>
<text stroke="#1a1a1a" stroke-width="8.5" stroke-linejoin="round" transform="translate(734.40,580.47) scale(0.09948,0.09948)" font-size="100" fill="#1a1a1a" xml:space="preserve"><tspan x="0.00" font-family="DejaVu Sans, sans-serif" font-weight="bold">*</tspan></text>
<text stroke="#1a1a1a" stroke-width="8.5" stroke-linejoin="round" transform="translate(734.40,600.17) scale(0.09948,0.09948)" font-size="100" fill="#1a1a1a" xml:space="preserve"><tspan x="0.00" font-family="DejaVu Sans, sans-serif" font-weight="bold">*</tspan></text>
<line x1="128.50" y1="575.40" x2="128.50" y2="1237.40" stroke="#444444" stroke-width="1.5"/>
<line x1="127.80" y1="1236.40" x2="813.20" y2="1236.40" stroke="#303030" stroke-width="2.4"/>
<line x1="128.50" y1="690.60" x2="131.50" y2="690.60" stroke="#333333" stroke-width="1.3"/>
<line x1="126.80" y1="608.18" x2="128.50" y2="608.18" stroke="#555555" stroke-width="1.0"/>
<line x1="128.50" y1="964.40" x2="131.50" y2="964.40" stroke="#333333" stroke-width="1.3"/>
<line x1="126.80" y1="881.98" x2="128.50" y2="881.98" stroke="#555555" stroke-width="1.0"/>
<line x1="126.80" y1="833.76" x2="128.50" y2="833.76" stroke="#555555" stroke-width="1.0"/>
<line x1="126.80" y1="799.56" x2="128.50" y2="799.56" stroke="#555555" stroke-width="1.0"/>
<line x1="126.80" y1="773.02" x2="128.50" y2="773.02" stroke="#555555" stroke-width="1.0"/>
<line x1="126.80" y1="751.34" x2="128.50" y2="751.34" stroke="#555555" stroke-width="1.0"/>
<line x1="126.80" y1="733.01" x2="128.50" y2="733.01" stroke="#555555" stroke-width="1.0"/>
<line x1="126.80" y1="717.13" x2="128.50" y2="717.13" stroke="#555555" stroke-width="1.0"/>
<line x1="126.80" y1="703.13" x2="128.50" y2="703.13" stroke="#555555" stroke-width="1.0"/>
<line x1="126.80" y1="1155.78" x2="128.50" y2="1155.78" stroke="#555555" stroke-width="1.0"/>
<line x1="126.80" y1="1107.56" x2="128.50" y2="1107.56" stroke="#555555" stroke-width="1.0"/>
<line x1="126.80" y1="1073.36" x2="128.50" y2="1073.36" stroke="#555555" stroke-width="1.0"/>
<line x1="126.80" y1="1046.82" x2="128.50" y2="1046.82" stroke="#555555" stroke-width="1.0"/>
<line x1="126.80" y1="1025.14" x2="128.50" y2="1025.14" stroke="#555555" stroke-width="1.0"/>
<line x1="126.80" y1="1006.81" x2="128.50" y2="1006.81" stroke="#555555" stroke-width="1.0"/>
<line x1="126.80" y1="990.93" x2="128.50" y2="990.93" stroke="#555555" stroke-width="1.0"/>
<line x1="126.80" y1="976.93" x2="128.50" y2="976.93" stroke="#555555" stroke-width="1.0"/>
<rect x="959.00" y="694.10" width="14.50" height="547.10" fill="#575757"/>
<rect x="973.50" y="891.10" width="14.40" height="350.10" fill="#999999"/>
<rect x="987.90" y="940.10" width="14.10" height="301.10" fill="#cccccc"/>
<rect x="1002.00" y="932.80" width="14.80" height="308.40" fill="#ffffff"/>
<line x1="959.80" y1="694.10" x2="959.80" y2="1241.20" stroke="#474747" stroke-width="1.6"/>
<line x1="973.50" y1="694.10" x2="973.50" y2="1241.20" stroke="#2e2e2e" stroke-width="1.6"/>
<line x1="987.90" y1="891.10" x2="987.90" y2="1241.20" stroke="#555555" stroke-width="1.6"/>
<line x1="1002.00" y1="932.80" x2="1002.00" y2="1241.20" stroke="#888888" stroke-width="1.6"/>
<line x1="1016.00" y1="932.80" x2="1016.00" y2="1241.20" stroke="#999999" stroke-width="1.6"/>
<line x1="959.00" y1="694.95" x2="973.50" y2="694.95" stroke="#363636" stroke-width="1.7"/>
<line x1="973.50" y1="891.95" x2="987.90" y2="891.95" stroke="#363636" stroke-width="1.7"/>
<line x1="987.90" y1="940.95" x2="1002.00" y2="940.95" stroke="#363636" stroke-width="1.7"/>
<line x1="1002.00" y1="933.65" x2="1016.80" y2="933.65" stroke="#363636" stroke-width="1.7"/>
<line x1="966.25" y1="666.20" x2="966.25" y2="729.80" stroke="#000" stroke-opacity="0.62" stroke-width="1.4"/>
<line x1="963.35" y1="666.20" x2="969.15" y2="666.20" stroke="#1e1e1e" stroke-width="1.8"/>
<line x1="963.35" y1="729.80" x2="969.15" y2="729.80" stroke="#1e1e1e" stroke-width="1.8"/>
<line x1="980.70" y1="881.10" x2="980.70" y2="902.40" stroke="#000" stroke-opacity="0.62" stroke-width="1.4"/>
<line x1="977.80" y1="881.10" x2="983.60" y2="881.10" stroke="#1e1e1e" stroke-width="1.8"/>
<line x1="977.80" y1="902.40" x2="983.60" y2="902.40" stroke="#1e1e1e" stroke-width="1.8"/>
<line x1="994.95" y1="916.50" x2="994.95" y2="970.70" stroke="#000" stroke-opacity="0.62" stroke-width="1.4"/>
<line x1="992.05" y1="916.50" x2="997.85" y2="916.50" stroke="#1e1e1e" stroke-width="1.8"/>
<line x1="992.05" y1="970.70" x2="997.85" y2="970.70" stroke="#1e1e1e" stroke-width="1.8"/>
<line x1="1009.40" y1="917.10" x2="1009.40" y2="952.40" stroke="#000" stroke-opacity="0.62" stroke-width="1.4"/>
<line x1="1006.50" y1="917.10" x2="1012.30" y2="917.10" stroke="#1e1e1e" stroke-width="1.8"/>
<line x1="1006.50" y1="952.40" x2="1012.30" y2="952.40" stroke="#1e1e1e" stroke-width="1.8"/>
<rect x="1043.50" y="1093.30" width="15.20" height="147.90" fill="#575757"/>
<rect x="1058.70" y="1177.80" width="14.20" height="63.40" fill="#999999"/>
<rect x="1072.90" y="1173.80" width="14.80" height="67.40" fill="#cccccc"/>
<rect x="1087.70" y="1183.30" width="14.50" height="57.90" fill="#ffffff"/>
<line x1="1044.30" y1="1093.30" x2="1044.30" y2="1241.20" stroke="#474747" stroke-width="1.6"/>
<line x1="1058.70" y1="1093.30" x2="1058.70" y2="1241.20" stroke="#2e2e2e" stroke-width="1.6"/>
<line x1="1072.90" y1="1173.80" x2="1072.90" y2="1241.20" stroke="#555555" stroke-width="1.6"/>
<line x1="1087.70" y1="1173.80" x2="1087.70" y2="1241.20" stroke="#888888" stroke-width="1.6"/>
<line x1="1101.40" y1="1183.30" x2="1101.40" y2="1241.20" stroke="#999999" stroke-width="1.6"/>
<line x1="1043.50" y1="1094.15" x2="1058.70" y2="1094.15" stroke="#363636" stroke-width="1.7"/>
<line x1="1058.70" y1="1178.65" x2="1072.90" y2="1178.65" stroke="#363636" stroke-width="1.7"/>
<line x1="1072.90" y1="1174.65" x2="1087.70" y2="1174.65" stroke="#363636" stroke-width="1.7"/>
<line x1="1087.70" y1="1184.15" x2="1102.20" y2="1184.15" stroke="#363636" stroke-width="1.7"/>
<line x1="1051.10" y1="1082.40" x2="1051.10" y2="1105.60" stroke="#000" stroke-opacity="0.62" stroke-width="1.4"/>
<line x1="1048.20" y1="1082.40" x2="1054.00" y2="1082.40" stroke="#1e1e1e" stroke-width="1.8"/>
<line x1="1048.20" y1="1105.60" x2="1054.00" y2="1105.60" stroke="#1e1e1e" stroke-width="1.8"/>
<line x1="1065.80" y1="1172.70" x2="1065.80" y2="1183.50" stroke="#000" stroke-opacity="0.62" stroke-width="1.4"/>
<line x1="1062.90" y1="1172.70" x2="1068.70" y2="1172.70" stroke="#1e1e1e" stroke-width="1.8"/>
<line x1="1062.90" y1="1183.50" x2="1068.70" y2="1183.50" stroke="#1e1e1e" stroke-width="1.8"/>
<line x1="1080.30" y1="1157.80" x2="1080.30" y2="1193.60" stroke="#000" stroke-opacity="0.62" stroke-width="1.4"/>
<line x1="1077.40" y1="1157.80" x2="1083.20" y2="1157.80" stroke="#1e1e1e" stroke-width="1.8"/>
<line x1="1077.40" y1="1193.60" x2="1083.20" y2="1193.60" stroke="#1e1e1e" stroke-width="1.8"/>
<line x1="1094.95" y1="1169.90" x2="1094.95" y2="1197.00" stroke="#000" stroke-opacity="0.62" stroke-width="1.4"/>
<line x1="1092.05" y1="1169.90" x2="1097.85" y2="1169.90" stroke="#1e1e1e" stroke-width="1.8"/>
<line x1="1092.05" y1="1197.00" x2="1097.85" y2="1197.00" stroke="#1e1e1e" stroke-width="1.8"/>
<rect x="1129.00" y="665.50" width="14.40" height="575.70" fill="#575757"/>
<rect x="1143.40" y="762.80" width="14.50" height="478.40" fill="#999999"/>
<rect x="1157.90" y="777.50" width="14.40" height="463.70" fill="#cccccc"/>
<rect x="1172.30" y="787.80" width="14.70" height="453.40" fill="#ffffff"/>
<line x1="1129.80" y1="665.50" x2="1129.80" y2="1241.20" stroke="#474747" stroke-width="1.6"/>
<line x1="1143.40" y1="665.50" x2="1143.40" y2="1241.20" stroke="#2e2e2e" stroke-width="1.6"/>
<line x1="1157.90" y1="762.80" x2="1157.90" y2="1241.20" stroke="#555555" stroke-width="1.6"/>
<line x1="1172.30" y1="777.50" x2="1172.30" y2="1241.20" stroke="#888888" stroke-width="1.6"/>
<line x1="1186.20" y1="787.80" x2="1186.20" y2="1241.20" stroke="#999999" stroke-width="1.6"/>
<line x1="1129.00" y1="666.35" x2="1143.40" y2="666.35" stroke="#363636" stroke-width="1.7"/>
<line x1="1143.40" y1="763.65" x2="1157.90" y2="763.65" stroke="#363636" stroke-width="1.7"/>
<line x1="1157.90" y1="778.35" x2="1172.30" y2="778.35" stroke="#363636" stroke-width="1.7"/>
<line x1="1172.30" y1="788.65" x2="1187.00" y2="788.65" stroke="#363636" stroke-width="1.7"/>
<line x1="1136.20" y1="641.00" x2="1136.20" y2="695.70" stroke="#000" stroke-opacity="0.62" stroke-width="1.4"/>
<line x1="1133.30" y1="641.00" x2="1139.10" y2="641.00" stroke="#1e1e1e" stroke-width="1.8"/>
<line x1="1133.30" y1="695.70" x2="1139.10" y2="695.70" stroke="#1e1e1e" stroke-width="1.8"/>
<line x1="1150.65" y1="747.10" x2="1150.65" y2="781.60" stroke="#000" stroke-opacity="0.62" stroke-width="1.4"/>
<line x1="1147.75" y1="747.10" x2="1153.55" y2="747.10" stroke="#1e1e1e" stroke-width="1.8"/>
<line x1="1147.75" y1="781.60" x2="1153.55" y2="781.60" stroke="#1e1e1e" stroke-width="1.8"/>
<line x1="1165.10" y1="769.10" x2="1165.10" y2="786.90" stroke="#000" stroke-opacity="0.62" stroke-width="1.4"/>
<line x1="1162.20" y1="769.10" x2="1168.00" y2="769.10" stroke="#1e1e1e" stroke-width="1.8"/>
<line x1="1162.20" y1="786.90" x2="1168.00" y2="786.90" stroke="#1e1e1e" stroke-width="1.8"/>
<line x1="1179.65" y1="783.60" x2="1179.65" y2="792.70" stroke="#000" stroke-opacity="0.62" stroke-width="1.4"/>
<line x1="1176.75" y1="783.60" x2="1182.55" y2="783.60" stroke="#1e1e1e" stroke-width="1.8"/>
<line x1="1176.75" y1="792.70" x2="1182.55" y2="792.70" stroke="#1e1e1e" stroke-width="1.8"/>
<rect x="1214.10" y="611.90" width="14.10" height="629.30" fill="#575757"/>
<rect x="1228.20" y="694.00" width="14.70" height="547.20" fill="#999999"/>
<rect x="1242.90" y="770.30" width="14.50" height="470.90" fill="#cccccc"/>
<rect x="1257.40" y="768.40" width="15.10" height="472.80" fill="#ffffff"/>
<line x1="1214.90" y1="611.90" x2="1214.90" y2="1241.20" stroke="#474747" stroke-width="1.6"/>
<line x1="1228.20" y1="611.90" x2="1228.20" y2="1241.20" stroke="#2e2e2e" stroke-width="1.6"/>
<line x1="1242.90" y1="694.00" x2="1242.90" y2="1241.20" stroke="#555555" stroke-width="1.6"/>
<line x1="1257.40" y1="768.40" x2="1257.40" y2="1241.20" stroke="#888888" stroke-width="1.6"/>
<line x1="1271.70" y1="768.40" x2="1271.70" y2="1241.20" stroke="#999999" stroke-width="1.6"/>
<line x1="1214.10" y1="612.75" x2="1228.20" y2="612.75" stroke="#363636" stroke-width="1.7"/>
<line x1="1228.20" y1="694.85" x2="1242.90" y2="694.85" stroke="#363636" stroke-width="1.7"/>
<line x1="1242.90" y1="771.15" x2="1257.40" y2="771.15" stroke="#363636" stroke-width="1.7"/>
<line x1="1257.40" y1="769.25" x2="1272.50" y2="769.25" stroke="#363636" stroke-width="1.7"/>
<line x1="1221.15" y1="591.40" x2="1221.15" y2="637.30" stroke="#000" stroke-opacity="0.62" stroke-width="1.4"/>
<line x1="1218.25" y1="591.40" x2="1224.05" y2="591.40" stroke="#1e1e1e" stroke-width="1.8"/>
<line x1="1218.25" y1="637.30" x2="1224.05" y2="637.30" stroke="#1e1e1e" stroke-width="1.8"/>
<line x1="1235.55" y1="675.90" x2="1235.55" y2="715.70" stroke="#000" stroke-opacity="0.62" stroke-width="1.4"/>
<line x1="1232.65" y1="675.90" x2="1238.45" y2="675.90" stroke="#1e1e1e" stroke-width="1.8"/>
<line x1="1232.65" y1="715.70" x2="1238.45" y2="715.70" stroke="#1e1e1e" stroke-width="1.8"/>
<line x1="1250.15" y1="764.80" x2="1250.15" y2="775.50" stroke="#000" stroke-opacity="0.62" stroke-width="1.4"/>
<line x1="1247.25" y1="764.80" x2="1253.05" y2="764.80" stroke="#1e1e1e" stroke-width="1.8"/>
<line x1="1247.25" y1="775.50" x2="1253.05" y2="775.50" stroke="#1e1e1e" stroke-width="1.8"/>
<line x1="1264.95" y1="763.80" x2="1264.95" y2="772.90" stroke="#000" stroke-opacity="0.62" stroke-width="1.4"/>
<line x1="1262.05" y1="763.80" x2="1267.85" y2="763.80" stroke="#1e1e1e" stroke-width="1.8"/>
<line x1="1262.05" y1="772.90" x2="1267.85" y2="772.90" stroke="#1e1e1e" stroke-width="1.8"/>
<rect x="1299.10" y="840.80" width="14.80" height="400.40" fill="#575757"/>
<rect x="1313.90" y="899.80" width="13.60" height="341.40" fill="#999999"/>
<rect x="1327.50" y="887.70" width="14.80" height="353.50" fill="#cccccc"/>
<rect x="1342.30" y="888.60" width="14.60" height="352.60" fill="#ffffff"/>
<line x1="1299.90" y1="840.80" x2="1299.90" y2="1241.20" stroke="#474747" stroke-width="1.6"/>
<line x1="1313.90" y1="840.80" x2="1313.90" y2="1241.20" stroke="#2e2e2e" stroke-width="1.6"/>
<line x1="1327.50" y1="887.70" x2="1327.50" y2="1241.20" stroke="#555555" stroke-width="1.6"/>
<line x1="1342.30" y1="887.70" x2="1342.30" y2="1241.20" stroke="#888888" stroke-width="1.6"/>
<line x1="1356.10" y1="888.60" x2="1356.10" y2="1241.20" stroke="#999999" stroke-width="1.6"/>
<line x1="1299.10" y1="841.65" x2="1313.90" y2="841.65" stroke="#363636" stroke-width="1.7"/>
<line x1="1313.90" y1="900.65" x2="1327.50" y2="900.65" stroke="#363636" stroke-width="1.7"/>
<line x1="1327.50" y1="888.55" x2="1342.30" y2="888.55" stroke="#363636" stroke-width="1.7"/>
<line x1="1342.30" y1="889.45" x2="1356.90" y2="889.45" stroke="#363636" stroke-width="1.7"/>
<line x1="1306.50" y1="826.10" x2="1306.50" y2="858.20" stroke="#000" stroke-opacity="0.62" stroke-width="1.4"/>
<line x1="1303.60" y1="826.10" x2="1309.40" y2="826.10" stroke="#1e1e1e" stroke-width="1.8"/>
<line x1="1303.60" y1="858.20" x2="1309.40" y2="858.20" stroke="#1e1e1e" stroke-width="1.8"/>
<line x1="1320.70" y1="888.60" x2="1320.70" y2="911.40" stroke="#000" stroke-opacity="0.62" stroke-width="1.4"/>
<line x1="1317.80" y1="888.60" x2="1323.60" y2="888.60" stroke="#1e1e1e" stroke-width="1.8"/>
<line x1="1317.80" y1="911.40" x2="1323.60" y2="911.40" stroke="#1e1e1e" stroke-width="1.8"/>
<line x1="1334.90" y1="883.00" x2="1334.90" y2="892.00" stroke="#000" stroke-opacity="0.62" stroke-width="1.4"/>
<line x1="1332.00" y1="883.00" x2="1337.80" y2="883.00" stroke="#1e1e1e" stroke-width="1.8"/>
<line x1="1332.00" y1="892.00" x2="1337.80" y2="892.00" stroke="#1e1e1e" stroke-width="1.8"/>
<line x1="1349.60" y1="873.00" x2="1349.60" y2="905.30" stroke="#000" stroke-opacity="0.62" stroke-width="1.4"/>
<line x1="1346.70" y1="873.00" x2="1352.50" y2="873.00" stroke="#1e1e1e" stroke-width="1.8"/>
<line x1="1346.70" y1="905.30" x2="1352.50" y2="905.30" stroke="#1e1e1e" stroke-width="1.8"/>
<rect x="1384.00" y="1069.80" width="14.70" height="171.40" fill="#575757"/>
<rect x="1398.70" y="1140.60" width="13.90" height="100.60" fill="#999999"/>
<rect x="1412.60" y="1135.10" width="14.50" height="106.10" fill="#cccccc"/>
<rect x="1427.10" y="1136.00" width="14.90" height="105.20" fill="#ffffff"/>
<line x1="1384.80" y1="1069.80" x2="1384.80" y2="1241.20" stroke="#474747" stroke-width="1.6"/>
<line x1="1398.70" y1="1069.80" x2="1398.70" y2="1241.20" stroke="#2e2e2e" stroke-width="1.6"/>
<line x1="1412.60" y1="1135.10" x2="1412.60" y2="1241.20" stroke="#555555" stroke-width="1.6"/>
<line x1="1427.10" y1="1135.10" x2="1427.10" y2="1241.20" stroke="#888888" stroke-width="1.6"/>
<line x1="1441.20" y1="1136.00" x2="1441.20" y2="1241.20" stroke="#999999" stroke-width="1.6"/>
<line x1="1384.00" y1="1070.65" x2="1398.70" y2="1070.65" stroke="#363636" stroke-width="1.7"/>
<line x1="1398.70" y1="1141.45" x2="1412.60" y2="1141.45" stroke="#363636" stroke-width="1.7"/>
<line x1="1412.60" y1="1135.95" x2="1427.10" y2="1135.95" stroke="#363636" stroke-width="1.7"/>
<line x1="1427.10" y1="1136.85" x2="1442.00" y2="1136.85" stroke="#363636" stroke-width="1.7"/>
<line x1="1391.35" y1="1064.00" x2="1391.35" y2="1076.00" stroke="#000" stroke-opacity="0.62" stroke-width="1.4"/>
<line x1="1388.45" y1="1064.00" x2="1394.25" y2="1064.00" stroke="#1e1e1e" stroke-width="1.8"/>
<line x1="1388.45" y1="1076.00" x2="1394.25" y2="1076.00" stroke="#1e1e1e" stroke-width="1.8"/>
<line x1="1405.65" y1="1126.60" x2="1405.65" y2="1157.90" stroke="#000" stroke-opacity="0.62" stroke-width="1.4"/>
<line x1="1402.75" y1="1126.60" x2="1408.55" y2="1126.60" stroke="#1e1e1e" stroke-width="1.8"/>
<line x1="1402.75" y1="1157.90" x2="1408.55" y2="1157.90" stroke="#1e1e1e" stroke-width="1.8"/>
<line x1="1419.85" y1="1124.70" x2="1419.85" y2="1146.00" stroke="#000" stroke-opacity="0.62" stroke-width="1.4"/>
<line x1="1416.95" y1="1124.70" x2="1422.75" y2="1124.70" stroke="#1e1e1e" stroke-width="1.8"/>
<line x1="1416.95" y1="1146.00" x2="1422.75" y2="1146.00" stroke="#1e1e1e" stroke-width="1.8"/>
<line x1="1434.55" y1="1127.90" x2="1434.55" y2="1145.30" stroke="#000" stroke-opacity="0.62" stroke-width="1.4"/>
<line x1="1431.65" y1="1127.90" x2="1437.45" y2="1127.90" stroke="#1e1e1e" stroke-width="1.8"/>
<line x1="1431.65" y1="1145.30" x2="1437.45" y2="1145.30" stroke="#1e1e1e" stroke-width="1.8"/>
<rect x="1469.00" y="693.80" width="14.50" height="547.40" fill="#575757"/>
<rect x="1483.50" y="921.90" width="14.30" height="319.30" fill="#999999"/>
<rect x="1497.80" y="953.30" width="14.60" height="287.90" fill="#cccccc"/>
<rect x="1512.40" y="956.10" width="14.50" height="285.10" fill="#ffffff"/>
<line x1="1469.80" y1="693.80" x2="1469.80" y2="1241.20" stroke="#474747" stroke-width="1.6"/>
<line x1="1483.50" y1="693.80" x2="1483.50" y2="1241.20" stroke="#2e2e2e" stroke-width="1.6"/>
<line x1="1497.80" y1="921.90" x2="1497.80" y2="1241.20" stroke="#555555" stroke-width="1.6"/>
<line x1="1512.40" y1="953.30" x2="1512.40" y2="1241.20" stroke="#888888" stroke-width="1.6"/>
<line x1="1526.10" y1="956.10" x2="1526.10" y2="1241.20" stroke="#999999" stroke-width="1.6"/>
<line x1="1469.00" y1="694.65" x2="1483.50" y2="694.65" stroke="#363636" stroke-width="1.7"/>
<line x1="1483.50" y1="922.75" x2="1497.80" y2="922.75" stroke="#363636" stroke-width="1.7"/>
<line x1="1497.80" y1="954.15" x2="1512.40" y2="954.15" stroke="#363636" stroke-width="1.7"/>
<line x1="1512.40" y1="956.95" x2="1526.90" y2="956.95" stroke="#363636" stroke-width="1.7"/>
<line x1="1476.25" y1="684.60" x2="1476.25" y2="704.10" stroke="#000" stroke-opacity="0.62" stroke-width="1.4"/>
<line x1="1473.35" y1="684.60" x2="1479.15" y2="684.60" stroke="#1e1e1e" stroke-width="1.8"/>
<line x1="1473.35" y1="704.10" x2="1479.15" y2="704.10" stroke="#1e1e1e" stroke-width="1.8"/>
<line x1="1490.65" y1="911.60" x2="1490.65" y2="932.00" stroke="#000" stroke-opacity="0.62" stroke-width="1.4"/>
<line x1="1487.75" y1="911.60" x2="1493.55" y2="911.60" stroke="#1e1e1e" stroke-width="1.8"/>
<line x1="1487.75" y1="932.00" x2="1493.55" y2="932.00" stroke="#1e1e1e" stroke-width="1.8"/>
<line x1="1505.10" y1="928.30" x2="1505.10" y2="984.60" stroke="#000" stroke-opacity="0.62" stroke-width="1.4"/>
<line x1="1502.20" y1="928.30" x2="1508.00" y2="928.30" stroke="#1e1e1e" stroke-width="1.8"/>
<line x1="1502.20" y1="984.60" x2="1508.00" y2="984.60" stroke="#1e1e1e" stroke-width="1.8"/>
<line x1="1519.65" y1="933.80" x2="1519.65" y2="983.80" stroke="#000" stroke-opacity="0.62" stroke-width="1.4"/>
<line x1="1516.75" y1="933.80" x2="1522.55" y2="933.80" stroke="#1e1e1e" stroke-width="1.8"/>
<line x1="1516.75" y1="983.80" x2="1522.55" y2="983.80" stroke="#1e1e1e" stroke-width="1.8"/>
<rect x="1554.10" y="686.60" width="14.60" height="554.60" fill="#575757"/>
<rect x="1568.70" y="929.10" width="14.20" height="312.10" fill="#999999"/>
<rect x="1582.90" y="933.70" width="14.20" height="307.50" fill="#cccccc"/>
<rect x="1597.10" y="933.70" width="15.10" height="307.50" fill="#ffffff"/>
<line x1="1554.90" y1="686.60" x2="1554.90" y2="1241.20" stroke="#474747" stroke-width="1.6"/>
<line x1="1568.70" y1="686.60" x2="1568.70" y2="1241.20" stroke="#2e2e2e" stroke-width="1.6"/>
<line x1="1582.90" y1="929.10" x2="1582.90" y2="1241.20" stroke="#555555" stroke-width="1.6"/>
<line x1="1597.10" y1="933.70" x2="1597.10" y2="1241.20" stroke="#888888" stroke-width="1.6"/>
<line x1="1611.40" y1="933.70" x2="1611.40" y2="1241.20" stroke="#999999" stroke-width="1.6"/>
<line x1="1554.10" y1="687.45" x2="1568.70" y2="687.45" stroke="#363636" stroke-width="1.7"/>
<line x1="1568.70" y1="929.95" x2="1582.90" y2="929.95" stroke="#363636" stroke-width="1.7"/>
<line x1="1582.90" y1="934.55" x2="1597.10" y2="934.55" stroke="#363636" stroke-width="1.7"/>
<line x1="1597.10" y1="934.55" x2="1612.20" y2="934.55" stroke="#363636" stroke-width="1.7"/>
<line x1="1561.40" y1="675.70" x2="1561.40" y2="698.00" stroke="#000" stroke-opacity="0.62" stroke-width="1.4"/>
<line x1="1558.50" y1="675.70" x2="1564.30" y2="675.70" stroke="#1e1e1e" stroke-width="1.8"/>
<line x1="1558.50" y1="698.00" x2="1564.30" y2="698.00" stroke="#1e1e1e" stroke-width="1.8"/>
<line x1="1575.80" y1="917.00" x2="1575.80" y2="944.10" stroke="#000" stroke-opacity="0.62" stroke-width="1.4"/>
<line x1="1572.90" y1="917.00" x2="1578.70" y2="917.00" stroke="#1e1e1e" stroke-width="1.8"/>
<line x1="1572.90" y1="944.10" x2="1578.70" y2="944.10" stroke="#1e1e1e" stroke-width="1.8"/>
<line x1="1590.00" y1="904.20" x2="1590.00" y2="973.50" stroke="#000" stroke-opacity="0.62" stroke-width="1.4"/>
<line x1="1587.10" y1="904.20" x2="1592.90" y2="904.20" stroke="#1e1e1e" stroke-width="1.8"/>
<line x1="1587.10" y1="973.50" x2="1592.90" y2="973.50" stroke="#1e1e1e" stroke-width="1.8"/>
<line x1="1604.65" y1="916.30" x2="1604.65" y2="955.90" stroke="#000" stroke-opacity="0.62" stroke-width="1.4"/>
<line x1="1601.75" y1="916.30" x2="1607.55" y2="916.30" stroke="#1e1e1e" stroke-width="1.8"/>
<line x1="1601.75" y1="955.90" x2="1607.55" y2="955.90" stroke="#1e1e1e" stroke-width="1.8"/>
<text stroke="#1a1a1a" stroke-width="8.5" stroke-linejoin="round" transform="translate(963.40,619.97) scale(0.09948,0.09948)" font-size="100" fill="#1a1a1a" xml:space="preserve"><tspan x="0.00" font-family="DejaVu Sans, sans-serif" font-weight="bold">*</tspan></text>
<text stroke="#1a1a1a" stroke-width="8.5" stroke-linejoin="round" transform="translate(963.40,640.07) scale(0.09948,0.09948)" font-size="100" fill="#1a1a1a" xml:space="preserve"><tspan x="0.00" font-family="DejaVu Sans, sans-serif" font-weight="bold">*</tspan></text>
<text stroke="#1a1a1a" stroke-width="8.5" stroke-linejoin="round" transform="translate(963.40,659.67) scale(0.09948,0.09948)" font-size="100" fill="#1a1a1a" xml:space="preserve"><tspan x="0.00" font-family="DejaVu Sans, sans-serif" font-weight="bold">*</tspan></text>
<text stroke="#1a1a1a" stroke-width="8.5" stroke-linejoin="round" transform="translate(1047.60,1056.87) scale(0.09948,0.09948)" font-size="100" fill="#1a1a1a" xml:space="preserve"><tspan x="0.00" font-family="DejaVu Sans, sans-serif" font-weight="bold">*</tspan></text>
<text stroke="#1a1a1a" stroke-width="8.5" stroke-linejoin="round" transform="translate(1047.60,1076.47) scale(0.09948,0.09948)" font-size="100" fill="#1a1a1a" xml:space="preserve"><tspan x="0.00" font-family="DejaVu Sans, sans-serif" font-weight="bold">*</tspan></text>
<text stroke="#1a1a1a" stroke-width="8.5" stroke-linejoin="round" transform="translate(1133.00,616.07) scale(0.09948,0.09948)" font-size="100" fill="#1a1a1a" xml:space="preserve"><tspan x="0.00" font-family="DejaVu Sans, sans-serif" font-weight="bold">*</tspan></text>
<text stroke="#1a1a1a" stroke-width="8.5" stroke-linejoin="round" transform="translate(1133.00,636.17) scale(0.09948,0.09948)" font-size="100" fill="#1a1a1a" xml:space="preserve"><tspan x="0.00" font-family="DejaVu Sans, sans-serif" font-weight="bold">*</tspan></text>
<text stroke="#1a1a1a" stroke-width="8.5" stroke-linejoin="round" transform="translate(1218.20,545.17) scale(0.09948,0.09948)" font-size="100" fill="#1a1a1a" xml:space="preserve"><tspan x="0.00" font-family="DejaVu Sans, sans-serif" font-weight="bold">*</tspan></text>
<text stroke="#1a1a1a" stroke-width="8.5" stroke-linejoin="round" transform="translate(1218.20,565.07) scale(0.09948,0.09948)" font-size="100" fill="#1a1a1a" xml:space="preserve"><tspan x="0.00" font-family="DejaVu Sans, sans-serif" font-weight="bold">*</tspan></text>
<text stroke="#1a1a1a" stroke-width="8.5" stroke-linejoin="round" transform="translate(1218.20,584.87) scale(0.09948,0.09948)" font-size="100" fill="#1a1a1a" xml:space="preserve"><tspan x="0.00" font-family="DejaVu Sans, sans-serif" font-weight="bold">*</tspan></text>
<text stroke="#1a1a1a" stroke-width="8.5" stroke-linejoin="round" transform="translate(1235.30,629.67) scale(0.09948,0.09948)" font-size="100" fill="#1a1a1a" xml:space="preserve"><tspan x="0.00" font-family="DejaVu Sans, sans-serif" font-weight="bold">*</tspan></text>
<text stroke="#1a1a1a" stroke-width="8.5" stroke-linejoin="round" transform="translate(1235.30,649.57) scale(0.09948,0.09948)" font-size="100" fill="#1a1a1a" xml:space="preserve"><tspan x="0.00" font-family="DejaVu Sans, sans-serif" font-weight="bold">*</tspan></text>
<text stroke="#1a1a1a" stroke-width="8.5" stroke-linejoin="round" transform="translate(1235.30,669.27) scale(0.09948,0.09948)" font-size="100" fill="#1a1a1a" xml:space="preserve"><tspan x="0.00" font-family="DejaVu Sans, sans-serif" font-weight="bold">*</tspan></text>
<text stroke="#1a1a1a" stroke-width="8.5" stroke-linejoin="round" transform="translate(1301.80,797.77) scale(0.09948,0.09948)" font-size="100" fill="#1a1a1a" xml:space="preserve"><tspan x="0.00" font-family="DejaVu Sans, sans-serif" font-weight="bold">*</tspan></text>
<text stroke="#1a1a1a" stroke-width="8.5" stroke-linejoin="round" transform="translate(1301.80,817.77) scale(0.09948,0.09948)" font-size="100" fill="#1a1a1a" xml:space="preserve"><tspan x="0.00" font-family="DejaVu Sans, sans-serif" font-weight="bold">*</tspan></text>
<text stroke="#1a1a1a" stroke-width="8.5" stroke-linejoin="round" transform="translate(1387.50,1019.47) scale(0.09948,0.09948)" font-size="100" fill="#1a1a1a" xml:space="preserve"><tspan x="0.00" font-family="DejaVu Sans, sans-serif" font-weight="bold">*</tspan></text>
<text stroke="#1a1a1a" stroke-width="8.5" stroke-linejoin="round" transform="translate(1387.50,1039.37) scale(0.09948,0.09948)" font-size="100" fill="#1a1a1a" xml:space="preserve"><tspan x="0.00" font-family="DejaVu Sans, sans-serif" font-weight="bold">*</tspan></text>
<text stroke="#1a1a1a" stroke-width="8.5" stroke-linejoin="round" transform="translate(1387.50,1059.07) scale(0.09948,0.09948)" font-size="100" fill="#1a1a1a" xml:space="preserve"><tspan x="0.00" font-family="DejaVu Sans, sans-serif" font-weight="bold">*</tspan></text>
<text stroke="#1a1a1a" stroke-width="8.5" stroke-linejoin="round" transform="translate(1474.00,638.17) scale(0.09948,0.09948)" font-size="100" fill="#1a1a1a" xml:space="preserve"><tspan x="0.00" font-family="DejaVu Sans, sans-serif" font-weight="bold">*</tspan></text>
<text stroke="#1a1a1a" stroke-width="8.5" stroke-linejoin="round" transform="translate(1474.00,658.37) scale(0.09948,0.09948)" font-size="100" fill="#1a1a1a" xml:space="preserve"><tspan x="0.00" font-family="DejaVu Sans, sans-serif" font-weight="bold">*</tspan></text>
<text stroke="#1a1a1a" stroke-width="8.5" stroke-linejoin="round" transform="translate(1474.00,677.97) scale(0.09948,0.09948)" font-size="100" fill="#1a1a1a" xml:space="preserve"><tspan x="0.00" font-family="DejaVu Sans, sans-serif" font-weight="bold">*</tspan></text>
<text stroke="#1a1a1a" stroke-width="8.5" stroke-linejoin="round" transform="translate(1557.90,632.07) scale(0.09948,0.09948)" font-size="100" fill="#1a1a1a" xml:space="preserve"><tspan x="0.00" font-family="DejaVu Sans, sans-serif" font-weight="bold">*</tspan></text>
<text stroke="#1a1a1a" stroke-width="8.5" stroke-linejoin="round" transform="translate(1557.90,651.97) scale(0.09948,0.09948)" font-size="100" fill="#1a1a1a" xml:space="preserve"><tspan x="0.00" font-family="DejaVu Sans, sans-serif" font-weight="bold">*</tspan></text>
<text stroke="#1a1a1a" stroke-width="8.5" stroke-linejoin="round" transform="translate(1557.90,671.77) scale(0.09948,0.09948)" font-size="100" fill="#1a1a1a" xml:space="preserve"><tspan x="0.00" font-family="DejaVu Sans, sans-serif" font-weight="bold">*</tspan></text>
<line x1="925.90" y1="585.30" x2="925.90" y2="1242.20" stroke="#777777" stroke-width="1.6"/>
<line x1="925.00" y1="1241.20" x2="1644.80" y2="1241.20" stroke="#2a2a2a" stroke-width="2.4"/>
<line x1="925.90" y1="736.50" x2="928.90" y2="736.50" stroke="#444444" stroke-width="1.3"/>
<line x1="924.20" y1="660.22" x2="925.90" y2="660.22" stroke="#666666" stroke-width="1.0"/>
<line x1="924.20" y1="615.60" x2="925.90" y2="615.60" stroke="#666666" stroke-width="1.0"/>
<line x1="925.90" y1="989.90" x2="928.90" y2="989.90" stroke="#444444" stroke-width="1.3"/>
<line x1="924.20" y1="913.62" x2="925.90" y2="913.62" stroke="#666666" stroke-width="1.0"/>
<line x1="924.20" y1="869.00" x2="925.90" y2="869.00" stroke="#666666" stroke-width="1.0"/>
<line x1="924.20" y1="837.34" x2="925.90" y2="837.34" stroke="#666666" stroke-width="1.0"/>
<line x1="924.20" y1="812.78" x2="925.90" y2="812.78" stroke="#666666" stroke-width="1.0"/>
<line x1="924.20" y1="792.72" x2="925.90" y2="792.72" stroke="#666666" stroke-width="1.0"/>
<line x1="924.20" y1="775.75" x2="925.90" y2="775.75" stroke="#666666" stroke-width="1.0"/>
<line x1="924.20" y1="761.06" x2="925.90" y2="761.06" stroke="#666666" stroke-width="1.0"/>
<line x1="924.20" y1="748.09" x2="925.90" y2="748.09" stroke="#666666" stroke-width="1.0"/>
<line x1="924.20" y1="1167.02" x2="925.90" y2="1167.02" stroke="#666666" stroke-width="1.0"/>
<line x1="924.20" y1="1122.40" x2="925.90" y2="1122.40" stroke="#666666" stroke-width="1.0"/>
<line x1="924.20" y1="1090.74" x2="925.90" y2="1090.74" stroke="#666666" stroke-width="1.0"/>
<line x1="924.20" y1="1066.18" x2="925.90" y2="1066.18" stroke="#666666" stroke-width="1.0"/>
<line x1="924.20" y1="1046.12" x2="925.90" y2="1046.12" stroke="#666666" stroke-width="1.0"/>
<line x1="924.20" y1="1029.15" x2="925.90" y2="1029.15" stroke="#666666" stroke-width="1.0"/>
<line x1="924.20" y1="1014.46" x2="925.90" y2="1014.46" stroke="#666666" stroke-width="1.0"/>
<line x1="924.20" y1="1001.49" x2="925.90" y2="1001.49" stroke="#666666" stroke-width="1.0"/>
<rect x="1249.9" y="68.10" width="28.3" height="11.10" fill="#6a6a6a" stroke="#3a3a3a" stroke-width="1.6" rx="1"/>
<rect x="1249.9" y="92.90" width="28.3" height="11.10" fill="#9a9a9a" stroke="#444444" stroke-width="1.6" rx="1"/>
<rect x="1249.9" y="117.80" width="28.3" height="11.10" fill="#bdbdbd" stroke="#555555" stroke-width="1.6" rx="1"/>
<rect x="1249.9" y="140.60" width="28.3" height="11.70" fill="#ffffff" stroke="#777777" stroke-width="1.6" rx="1"/>
<text transform="translate(2.32,38.93) scale(0.47745,0.47078)" font-size="100" fill="#000" xml:space="preserve"><tspan x="0.00" font-weight="normal">(a)</tspan></text>
<text transform="translate(805.24,41.48) scale(0.47289,0.46863)" font-size="100" fill="#000" xml:space="preserve"><tspan x="0.00" font-weight="normal">(b)</tspan></text>
<text transform="translate(1.53,565.00) scale(0.47596,0.46756)" font-size="100" fill="#000" xml:space="preserve"><tspan x="0.00" font-weight="normal">(c)</tspan></text>
<text transform="translate(808.25,570.46) scale(0.47198,0.47399)" font-size="100" fill="#000" xml:space="preserve"><tspan x="0.00" font-weight="normal">(d)</tspan></text>
<text transform="translate(202.96,536.13) scale(0.26004,0.26803)" font-size="100" fill="#000" xml:space="preserve"><tspan x="0.00" font-weight="bold">Glucose</tspan></text>
<text transform="translate(484.73,533.62) scale(0.26149,0.27670)" font-size="100" fill="#000" xml:space="preserve"><tspan x="0.00" font-weight="bold">Fructose</tspan></text>
<text transform="translate(96.62,123.00) scale(0.20676,0.20212)" font-size="100" fill="#222222" xml:space="preserve"><tspan x="0.00" font-weight="normal">30</tspan></text>
<text transform="translate(98.66,254.00) scale(0.20733,0.20353)" font-size="100" fill="#222222" xml:space="preserve"><tspan x="0.00" font-weight="normal">20</tspan></text>
<text stroke="#222222" stroke-width="2" transform="translate(98.89,381.35) scale(0.19753,0.19406)" font-size="100" fill="#222222" xml:space="preserve"><tspan x="0.00" font-family="NanumGothic, Liberation Sans, sans-serif" font-weight="normal">10</tspan></text>
<text transform="translate(879.48,160.69) scale(0.20377,0.21060)" font-size="100" fill="#222222" xml:space="preserve"><tspan x="0.00" font-weight="normal">0.02</tspan></text>
<text stroke="#222222" stroke-width="2" transform="translate(880.53,336.10) scale(0.19452,0.17862)" font-size="100" fill="#222222" xml:space="preserve"><tspan x="0.00" font-family="NanumGothic, Liberation Sans, sans-serif" font-weight="normal">0.01</tspan></text>
<text transform="translate(904.83,514.90) scale(0.21780,0.20212)" font-size="100" fill="#222222" xml:space="preserve"><tspan x="0.00" font-weight="normal">0</tspan></text>
<text stroke="#222222" stroke-width="2" transform="translate(94.96,690.66) scale(0.19951,0.18614)" font-size="100" fill="#222222" xml:space="preserve"><tspan x="0.00" font-family="NanumGothic, Liberation Sans, sans-serif" font-weight="normal">10</tspan></text>
<text transform="translate(115.40,675.06) scale(0.15079,0.13852)" font-size="100" fill="#222222" xml:space="preserve"><tspan x="0.00" font-weight="normal">0</tspan></text>
<text stroke="#222222" stroke-width="2" transform="translate(88.99,972.46) scale(0.20444,0.18878)" font-size="100" fill="#222222" xml:space="preserve"><tspan x="0.00" font-family="NanumGothic, Liberation Sans, sans-serif" font-weight="normal">10</tspan></text>
<text stroke="#222222" stroke-width="2" transform="translate(110.54,956.27) scale(0.15646,0.12483)" font-size="100" fill="#222222" xml:space="preserve"><tspan x="0.00" font-family="NanumGothic, Liberation Sans, sans-serif" font-weight="normal">-1</tspan></text>
<text stroke="#222222" stroke-width="2" transform="translate(892.96,685.86) scale(0.19951,0.18878)" font-size="100" fill="#222222" xml:space="preserve"><tspan x="0.00" font-family="NanumGothic, Liberation Sans, sans-serif" font-weight="normal">10</tspan></text>
<text transform="translate(911.17,667.66) scale(0.15707,0.13993)" font-size="100" fill="#222222" xml:space="preserve"><tspan x="0.00" font-weight="normal">0</tspan></text>
<text stroke="#222222" stroke-width="2" transform="translate(888.99,989.76) scale(0.20444,0.18878)" font-size="100" fill="#222222" xml:space="preserve"><tspan x="0.00" font-family="NanumGothic, Liberation Sans, sans-serif" font-weight="normal">10</tspan></text>
<text stroke="#222222" stroke-width="2" transform="translate(908.91,975.97) scale(0.15385,0.12483)" font-size="100" fill="#222222" xml:space="preserve"><tspan x="0.00" font-family="NanumGothic, Liberation Sans, sans-serif" font-weight="normal">1</tspan></text>
<line x1="905.2" y1="972.1" x2="908.6" y2="972.1" stroke="#333" stroke-width="1.2"/>
<text transform="translate(63.13,525.56) rotate(-90) scale(0.26437,0.26667)" font-size="100" fill="#000" xml:space="preserve"><tspan x="0.00" font-weight="bold">Concentration of simple sugar</tspan></text>
<text transform="translate(62.44,135.48) rotate(-90) scale(0.19628,0.20053)" font-size="100" fill="#000" xml:space="preserve"><tspan x="0.00" font-weight="bold">(mg/g)</tspan></text>
<text transform="translate(870.33,501.86) rotate(-90) scale(0.26455,0.27075)" font-size="100" fill="#000" xml:space="preserve"><tspan x="0.00" font-weight="bold">Concentration of total sterols</tspan></text>
<text transform="translate(869.52,124.38) rotate(-90) scale(0.19526,0.20160)" font-size="100" fill="#000" xml:space="preserve"><tspan x="0.00" font-weight="bold">(mg/g)</tspan></text>
<text transform="translate(62.73,1195.56) rotate(-90) scale(0.26528,0.26667)" font-size="100" fill="#000" xml:space="preserve"><tspan x="0.00" font-weight="bold">Concentration of essential amino acids</tspan></text>
<text transform="translate(62.75,693.58) rotate(-90) scale(0.19560,0.20480)" font-size="100" fill="#000" xml:space="preserve"><tspan x="0.00" font-weight="bold">(mg/g)</tspan></text>
<text transform="translate(878.32,1230.66) rotate(-90) scale(0.26541,0.27891)" font-size="100" fill="#000" xml:space="preserve"><tspan x="0.00" font-weight="bold">Concentration of non-essential amino acids</tspan></text>
<text transform="translate(877.64,670.76) rotate(-90) scale(0.19289,0.20053)" font-size="100" fill="#000" xml:space="preserve"><tspan x="0.00" font-weight="bold">(mg/g)</tspan></text>
<text transform="translate(166.09,1305.96) rotate(-90) scale(0.26340,0.27333)" font-size="100" fill="#000" xml:space="preserve"><tspan x="0.00" font-weight="bold">Arg</tspan></text>
<text transform="translate(239.32,1309.25) rotate(-90) scale(0.25897,0.28100)" font-size="100" fill="#000" xml:space="preserve"><tspan x="0.00" font-weight="bold">Leu</tspan></text>
<text transform="translate(315.03,1306.08) rotate(-90) scale(0.27884,0.27240)" font-size="100" fill="#000" xml:space="preserve"><tspan x="0.00" font-weight="bold">Met</tspan></text>
<text transform="translate(390.33,1312.48) rotate(-90) scale(0.26436,0.26803)" font-size="100" fill="#000" xml:space="preserve"><tspan x="0.00" font-weight="bold">Phe</tspan></text>
<text transform="translate(464.77,1303.16) rotate(-90) scale(0.26379,0.27151)" font-size="100" fill="#000" xml:space="preserve"><tspan x="0.00" font-weight="bold">Trp</tspan></text>
<text transform="translate(539.63,1300.20) rotate(-90) scale(0.26252,0.26803)" font-size="100" fill="#000" xml:space="preserve"><tspan x="0.00" font-weight="bold">Val</tspan></text>
<text transform="translate(616.35,1289.64) rotate(-90) scale(0.25842,0.25034)" font-size="100" fill="#000" xml:space="preserve"><tspan x="0.00" font-weight="bold">Ile</tspan></text>
<text transform="translate(691.17,1305.75) rotate(-90) scale(0.25864,0.27598)" font-size="100" fill="#000" xml:space="preserve"><tspan x="0.00" font-weight="bold">Lys</tspan></text>
<text transform="translate(764.20,1309.87) rotate(-90) scale(0.26835,0.26345)" font-size="100" fill="#000" xml:space="preserve"><tspan x="0.00" font-weight="bold">Thr</tspan></text>
<text transform="translate(996.85,1303.46) rotate(-90) scale(0.26211,0.25306)" font-size="100" fill="#000" xml:space="preserve"><tspan x="0.00" font-weight="bold">Ala</tspan></text>
<text transform="translate(1081.52,1309.35) rotate(-90) scale(0.26019,0.27527)" font-size="100" fill="#000" xml:space="preserve"><tspan x="0.00" font-weight="bold">Asn</tspan></text>
<text transform="translate(1164.24,1310.46) rotate(-90) scale(0.26337,0.27263)" font-size="100" fill="#000" xml:space="preserve"><tspan x="0.00" font-weight="bold">Asp</tspan></text>
<text transform="translate(1253.23,1312.06) rotate(-90) scale(0.28974,0.26803)" font-size="100" fill="#000" xml:space="preserve"><tspan x="0.00" font-weight="bold">Glu</tspan></text>
<text transform="translate(1336.62,1302.57) rotate(-90) scale(0.26773,0.28163)" font-size="100" fill="#000" xml:space="preserve"><tspan x="0.00" font-weight="bold">Gln</tspan></text>
<text transform="translate(1420.57,1304.37) rotate(-90) scale(0.26773,0.28097)" font-size="100" fill="#000" xml:space="preserve"><tspan x="0.00" font-weight="bold">Gly</tspan></text>
<text transform="translate(1505.31,1299.28) rotate(-90) scale(0.26156,0.28693)" font-size="100" fill="#000" xml:space="preserve"><tspan x="0.00" font-weight="bold">Ser</tspan></text>
<text transform="translate(1586.29,1294.08) rotate(-90) scale(0.27650,0.28492)" font-size="100" fill="#000" xml:space="preserve"><tspan x="0.00" font-weight="bold">Tyr</tspan></text>
<text transform="translate(1283.86,80.00) scale(0.19877,0.18897)" font-size="100" fill="#111" xml:space="preserve"><tspan x="0.00" font-weight="normal">Pre-inh. by </tspan><tspan x="511.34" font-style="italic">R. padi</tspan><tspan x="828.20" font-weight="normal"> + BYDV-PAV</tspan></text>
<text transform="translate(1283.16,105.50) scale(0.19849,0.19448)" font-size="100" fill="#111" xml:space="preserve"><tspan x="0.00" font-weight="normal">Pre-inh. by </tspan><tspan x="511.34" font-style="italic">R. maidis</tspan><tspan x="928.11" font-weight="normal"> + BYDV-RMV</tspan></text>
<text transform="translate(1283.84,133.30) scale(0.20146,0.19172)" font-size="100" fill="#111" xml:space="preserve"><tspan x="0.00" font-weight="normal">Pre-inhabited</tspan></text>
<text transform="translate(1284.10,154.50) scale(0.20016,0.19724)" font-size="100" fill="#111" xml:space="preserve"><tspan x="0.00" font-weight="normal">Control</tspan></text>
</svg>
</body></html>
